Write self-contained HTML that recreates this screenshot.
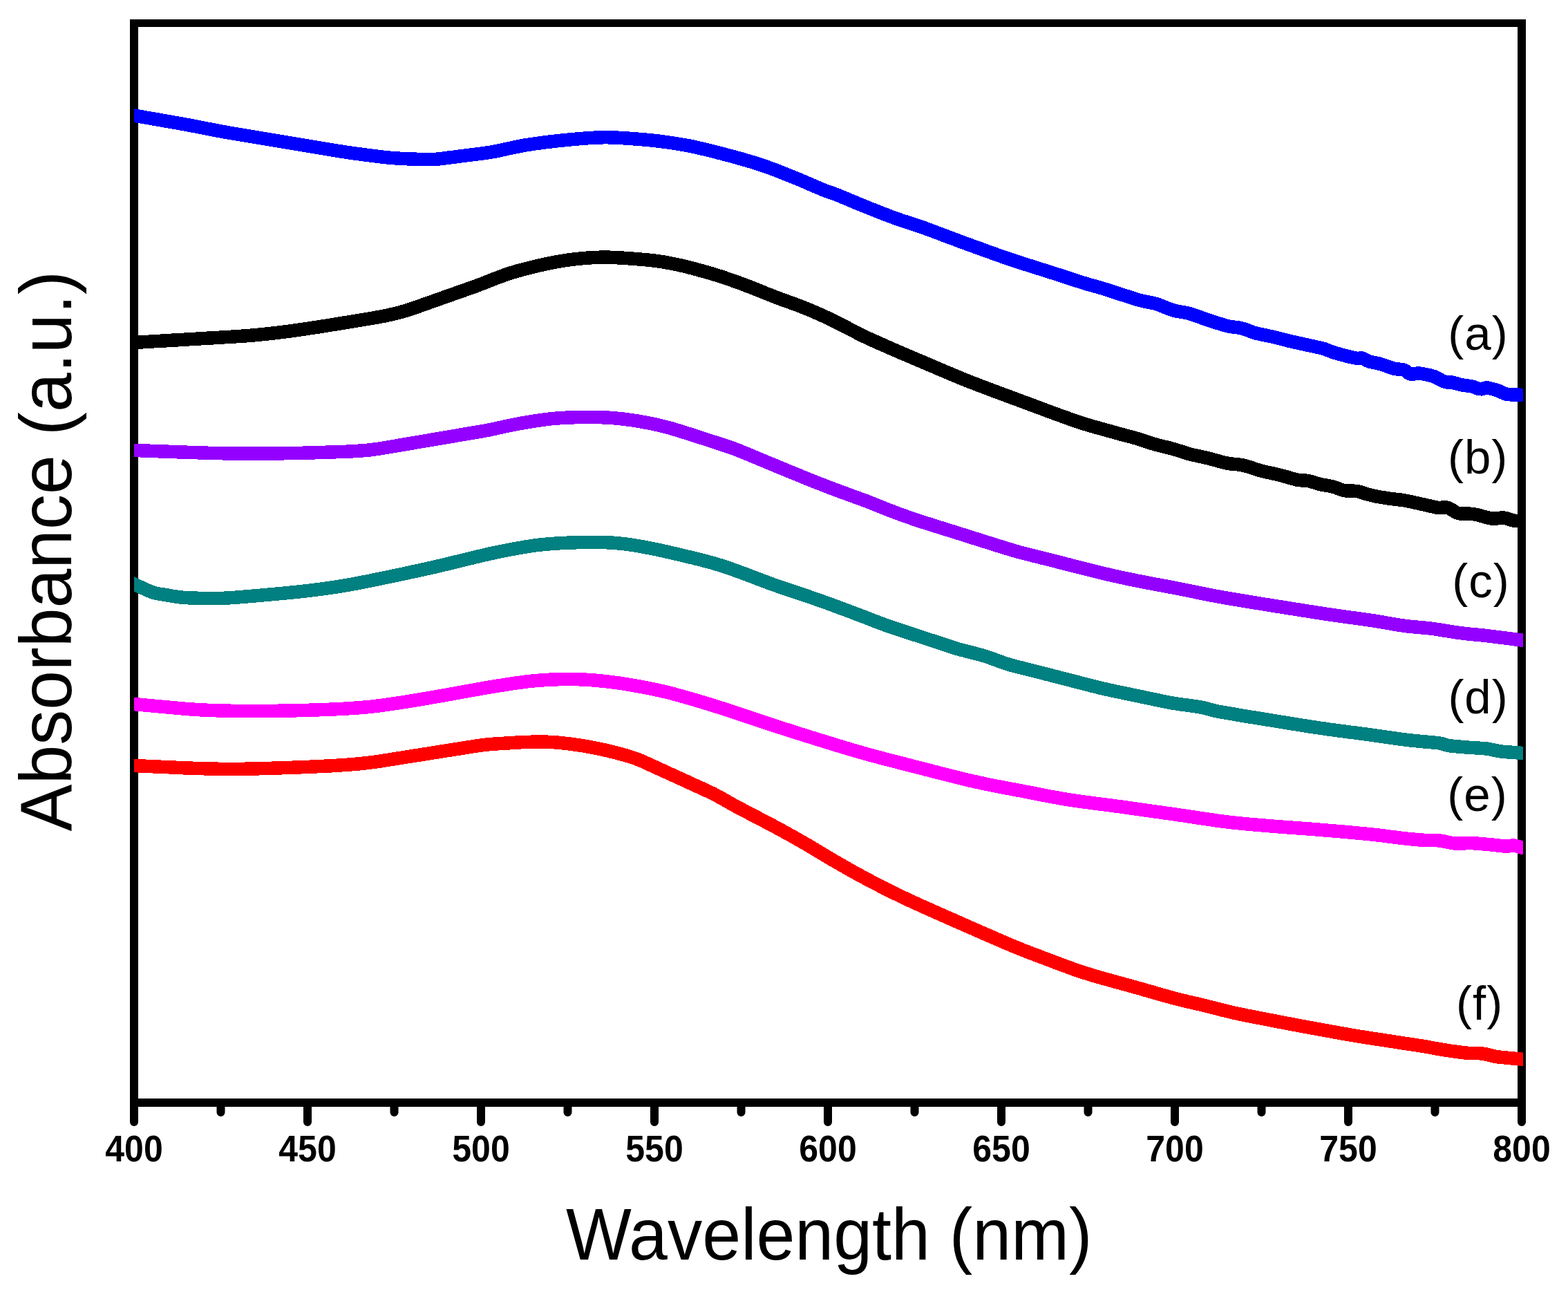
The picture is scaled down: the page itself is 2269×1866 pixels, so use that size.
<!DOCTYPE html>
<html><head><meta charset="utf-8"><title>Absorbance spectra</title>
<style>
html,body{margin:0;padding:0;background:#fff;}
body{width:2269px;height:1866px;overflow:hidden;}
svg{display:block;}
.tl{font-family:"Liberation Sans",Arial,sans-serif;font-weight:bold;font-size:50px;text-anchor:middle;fill:#000;}
.cl{font-family:"Liberation Sans",Arial,sans-serif;font-size:69px;letter-spacing:1px;fill:#000;}
.ax{font-family:"Liberation Sans",Arial,sans-serif;font-size:102px;fill:#000;}
</style></head><body>
<svg width="2269" height="1866" viewBox="0 0 2269 1866">
<g fill="#000">
<rect x="188" y="28" width="2020" height="11"/>
<rect x="188" y="1589" width="2020" height="12"/>
<rect x="188" y="28" width="12" height="1573"/>
<rect x="2196" y="28" width="12" height="1573"/>
</g>
<path d="M194.0 1595V1623 M319.5 1595V1609 M445.0 1595V1623 M570.5 1595V1609 M696.0 1595V1623 M821.5 1595V1609 M947.0 1595V1623 M1072.5 1595V1609 M1198.0 1595V1623 M1323.5 1595V1609 M1449.0 1595V1623 M1574.5 1595V1609 M1700.0 1595V1623 M1825.5 1595V1609 M1951.0 1595V1623 M2076.5 1595V1609 M2202.0 1595V1623" stroke="#000" stroke-width="12" stroke-linecap="round" fill="none"/>
<text transform="translate(194.0,1680) scale(1,1.07)" class="tl">400</text>
<text transform="translate(445.0,1680) scale(1,1.07)" class="tl">450</text>
<text transform="translate(696.0,1680) scale(1,1.07)" class="tl">500</text>
<text transform="translate(947.0,1680) scale(1,1.07)" class="tl">550</text>
<text transform="translate(1198.0,1680) scale(1,1.07)" class="tl">600</text>
<text transform="translate(1449.0,1680) scale(1,1.07)" class="tl">650</text>
<text transform="translate(1700.0,1680) scale(1,1.07)" class="tl">700</text>
<text transform="translate(1951.0,1680) scale(1,1.07)" class="tl">750</text>
<text transform="translate(2202.0,1680) scale(1,1.07)" class="tl">800</text>
<defs><clipPath id="pc"><rect x="194" y="0" width="2010" height="1866"/></clipPath></defs>
<g clip-path="url(#pc)" fill="none" stroke-width="19.5" stroke-linejoin="round" shape-rendering="crispEdges">
<path d="M182.0 164.9 L185.0 165.4 L188.0 165.9 L191.0 166.5 L194.0 167.0 L197.0 167.5 L200.0 168.1 L203.0 168.6 L206.0 169.1 L209.0 169.6 L212.0 170.2 L215.0 170.7 L218.0 171.2 L221.0 171.7 L224.0 172.3 L227.0 172.8 L230.0 173.3 L233.0 173.8 L236.0 174.4 L239.0 174.9 L242.0 175.4 L245.0 175.9 L248.0 176.5 L251.0 177.0 L254.0 177.5 L257.0 178.0 L260.0 178.6 L263.0 179.1 L266.0 179.6 L269.0 180.2 L272.0 180.7 L275.0 181.3 L278.0 181.9 L281.0 182.4 L284.0 183.0 L287.0 183.6 L290.0 184.2 L293.0 184.8 L296.0 185.4 L299.0 186.0 L302.0 186.6 L305.0 187.1 L308.0 187.7 L311.0 188.3 L314.0 188.9 L317.0 189.5 L320.0 190.0 L323.0 190.6 L326.0 191.1 L329.0 191.7 L332.0 192.2 L335.0 192.7 L338.0 193.2 L341.0 193.7 L344.0 194.2 L347.0 194.7 L350.0 195.2 L353.0 195.7 L356.0 196.2 L359.0 196.7 L362.0 197.2 L365.0 197.7 L368.0 198.2 L371.0 198.7 L374.0 199.2 L377.0 199.7 L380.0 200.2 L383.0 200.7 L386.0 201.2 L389.0 201.7 L392.0 202.2 L395.0 202.7 L398.0 203.2 L401.0 203.7 L404.0 204.2 L407.0 204.7 L410.0 205.2 L413.0 205.7 L416.0 206.2 L419.0 206.7 L422.0 207.2 L425.0 207.7 L428.0 208.2 L431.0 208.7 L434.0 209.2 L437.0 209.7 L440.0 210.2 L443.0 210.7 L446.0 211.2 L449.0 211.7 L452.0 212.2 L455.0 212.7 L458.0 213.2 L461.0 213.7 L464.0 214.2 L467.0 214.7 L470.0 215.2 L473.0 215.7 L476.0 216.2 L479.0 216.7 L482.0 217.2 L485.0 217.7 L488.0 218.2 L491.0 218.7 L494.0 219.1 L497.0 219.6 L500.0 220.0 L503.0 220.5 L506.0 220.9 L509.0 221.4 L512.0 221.8 L515.0 222.2 L518.0 222.6 L521.0 223.0 L524.0 223.4 L527.0 223.8 L530.0 224.2 L533.0 224.6 L536.0 225.0 L539.0 225.4 L542.0 225.7 L545.0 226.1 L548.0 226.5 L551.0 226.8 L554.0 227.2 L557.0 227.5 L560.0 227.8 L563.0 228.1 L566.0 228.4 L569.0 228.6 L572.0 228.8 L575.0 229.0 L578.0 229.2 L581.0 229.4 L584.0 229.5 L587.0 229.7 L590.0 229.8 L593.0 229.9 L596.0 230.0 L599.0 230.1 L602.0 230.2 L605.0 230.4 L608.0 230.5 L611.0 230.5 L614.0 230.6 L617.0 230.7 L620.0 230.7 L623.0 230.6 L626.0 230.5 L629.0 230.4 L632.0 230.2 L635.0 229.9 L638.0 229.6 L641.0 229.2 L644.0 228.8 L647.0 228.4 L650.0 228.0 L653.0 227.7 L656.0 227.3 L659.0 226.9 L662.0 226.5 L665.0 226.1 L668.0 225.7 L671.0 225.3 L674.0 224.9 L677.0 224.5 L680.0 224.2 L683.0 223.8 L686.0 223.4 L689.0 223.1 L692.0 222.7 L695.0 222.3 L698.0 222.0 L701.0 221.6 L704.0 221.1 L707.0 220.7 L710.0 220.2 L713.0 219.6 L716.0 219.1 L719.0 218.5 L722.0 217.9 L725.0 217.2 L728.0 216.6 L731.0 215.9 L734.0 215.3 L737.0 214.6 L740.0 214.0 L743.0 213.3 L746.0 212.7 L749.0 212.1 L752.0 211.5 L755.0 210.9 L758.0 210.3 L761.0 209.8 L764.0 209.4 L767.0 208.9 L770.0 208.5 L773.0 208.0 L776.0 207.6 L779.0 207.2 L782.0 206.8 L785.0 206.4 L788.0 206.0 L791.0 205.6 L794.0 205.2 L797.0 204.9 L800.0 204.5 L803.0 204.2 L806.0 203.8 L809.0 203.5 L812.0 203.2 L815.0 202.9 L818.0 202.6 L821.0 202.3 L824.0 202.0 L827.0 201.7 L830.0 201.4 L833.0 201.2 L836.0 200.9 L839.0 200.7 L842.0 200.4 L845.0 200.2 L848.0 200.0 L851.0 199.7 L854.0 199.5 L857.0 199.4 L860.0 199.2 L863.0 199.1 L866.0 198.9 L869.0 198.9 L872.0 198.8 L875.0 198.7 L878.0 198.7 L881.0 198.8 L884.0 198.8 L887.0 198.9 L890.0 199.0 L893.0 199.2 L896.0 199.3 L899.0 199.5 L902.0 199.7 L905.0 199.9 L908.0 200.1 L911.0 200.3 L914.0 200.6 L917.0 200.8 L920.0 201.0 L923.0 201.2 L926.0 201.5 L929.0 201.7 L932.0 202.0 L935.0 202.2 L938.0 202.5 L941.0 202.8 L944.0 203.1 L947.0 203.4 L950.0 203.8 L953.0 204.1 L956.0 204.5 L959.0 204.9 L962.0 205.3 L965.0 205.7 L968.0 206.2 L971.0 206.6 L974.0 207.0 L977.0 207.5 L980.0 208.0 L983.0 208.5 L986.0 209.0 L989.0 209.5 L992.0 210.0 L995.0 210.6 L998.0 211.1 L1001.0 211.7 L1004.0 212.3 L1007.0 213.0 L1010.0 213.7 L1013.0 214.4 L1016.0 215.1 L1019.0 215.8 L1022.0 216.5 L1025.0 217.2 L1028.0 218.0 L1031.0 218.7 L1034.0 219.5 L1037.0 220.3 L1040.0 221.1 L1043.0 221.8 L1046.0 222.6 L1049.0 223.4 L1052.0 224.2 L1055.0 225.0 L1058.0 225.8 L1061.0 226.6 L1064.0 227.4 L1067.0 228.3 L1070.0 229.1 L1073.0 229.9 L1076.0 230.8 L1079.0 231.7 L1082.0 232.5 L1085.0 233.4 L1088.0 234.3 L1091.0 235.2 L1094.0 236.2 L1097.0 237.1 L1100.0 238.1 L1103.0 239.1 L1106.0 240.2 L1109.0 241.2 L1112.0 242.3 L1115.0 243.4 L1118.0 244.5 L1121.0 245.6 L1124.0 246.8 L1127.0 247.9 L1130.0 249.1 L1133.0 250.3 L1136.0 251.5 L1139.0 252.7 L1142.0 253.9 L1145.0 255.1 L1148.0 256.3 L1151.0 257.5 L1154.0 258.8 L1157.0 260.0 L1160.0 261.2 L1163.0 262.5 L1166.0 263.8 L1169.0 265.1 L1172.0 266.4 L1175.0 267.7 L1178.0 269.0 L1181.0 270.3 L1184.0 271.5 L1187.0 272.8 L1190.0 274.1 L1193.0 275.3 L1196.0 276.5 L1199.0 277.6 L1202.0 278.6 L1205.0 279.6 L1208.0 280.6 L1211.0 281.8 L1214.0 283.0 L1217.0 284.2 L1220.0 285.5 L1223.0 286.7 L1226.0 288.0 L1229.0 289.2 L1232.0 290.5 L1235.0 291.7 L1238.0 293.0 L1241.0 294.3 L1244.0 295.5 L1247.0 296.7 L1250.0 298.0 L1253.0 299.2 L1256.0 300.4 L1259.0 301.6 L1262.0 302.8 L1265.0 303.9 L1268.0 305.1 L1271.0 306.3 L1274.0 307.5 L1277.0 308.7 L1280.0 309.8 L1283.0 311.0 L1286.0 312.1 L1289.0 313.3 L1292.0 314.4 L1295.0 315.5 L1298.0 316.6 L1301.0 317.6 L1304.0 318.7 L1307.0 319.7 L1310.0 320.6 L1313.0 321.6 L1316.0 322.6 L1319.0 323.5 L1322.0 324.5 L1325.0 325.5 L1328.0 326.4 L1331.0 327.5 L1334.0 328.5 L1337.0 329.6 L1340.0 330.7 L1343.0 331.8 L1346.0 332.9 L1349.0 334.0 L1352.0 335.1 L1355.0 336.3 L1358.0 337.4 L1361.0 338.5 L1364.0 339.7 L1367.0 340.8 L1370.0 341.9 L1373.0 343.1 L1376.0 344.2 L1379.0 345.3 L1382.0 346.4 L1385.0 347.6 L1388.0 348.7 L1391.0 349.8 L1394.0 350.9 L1397.0 352.0 L1400.0 353.1 L1403.0 354.2 L1406.0 355.3 L1409.0 356.4 L1412.0 357.5 L1415.0 358.5 L1418.0 359.6 L1421.0 360.7 L1424.0 361.8 L1427.0 362.9 L1430.0 364.0 L1433.0 365.0 L1436.0 366.1 L1439.0 367.2 L1442.0 368.3 L1445.0 369.3 L1448.0 370.4 L1451.0 371.4 L1454.0 372.5 L1457.0 373.5 L1460.0 374.5 L1463.0 375.5 L1466.0 376.5 L1469.0 377.5 L1472.0 378.5 L1475.0 379.5 L1478.0 380.5 L1481.0 381.4 L1484.0 382.4 L1487.0 383.3 L1490.0 384.3 L1493.0 385.2 L1496.0 386.2 L1499.0 387.1 L1502.0 388.1 L1505.0 389.0 L1508.0 390.0 L1511.0 390.9 L1514.0 391.9 L1517.0 392.8 L1520.0 393.8 L1523.0 394.7 L1526.0 395.7 L1529.0 396.7 L1532.0 397.6 L1535.0 398.6 L1538.0 399.6 L1541.0 400.6 L1544.0 401.5 L1547.0 402.5 L1550.0 403.5 L1553.0 404.4 L1556.0 405.4 L1559.0 406.4 L1562.0 407.3 L1565.0 408.3 L1568.0 409.3 L1571.0 410.2 L1574.0 411.1 L1577.0 412.0 L1580.0 412.8 L1583.0 413.6 L1586.0 414.4 L1589.0 415.2 L1592.0 416.1 L1595.0 417.0 L1598.0 418.0 L1601.0 418.9 L1604.0 419.9 L1607.0 420.9 L1610.0 421.9 L1613.0 422.8 L1616.0 423.8 L1619.0 424.8 L1622.0 425.8 L1625.0 426.7 L1628.0 427.7 L1631.0 428.6 L1634.0 429.6 L1637.0 430.5 L1640.0 431.5 L1643.0 432.4 L1646.0 433.4 L1649.0 434.3 L1652.0 435.0 L1655.0 435.7 L1658.0 436.3 L1661.0 436.9 L1664.0 437.5 L1667.0 438.1 L1670.0 438.8 L1673.0 439.6 L1676.0 440.6 L1679.0 441.7 L1682.0 442.8 L1685.0 444.1 L1688.0 445.3 L1691.0 446.5 L1694.0 447.6 L1697.0 448.6 L1700.0 449.5 L1703.0 450.1 L1706.0 450.7 L1709.0 451.2 L1712.0 451.7 L1715.0 452.2 L1718.0 452.8 L1721.0 453.6 L1724.0 454.5 L1727.0 455.5 L1730.0 456.5 L1733.0 457.6 L1736.0 458.6 L1739.0 459.7 L1742.0 460.8 L1745.0 461.9 L1748.0 462.9 L1751.0 463.9 L1754.0 464.9 L1757.0 465.9 L1760.0 466.8 L1763.0 467.7 L1766.0 468.6 L1769.0 469.5 L1772.0 470.4 L1775.0 471.2 L1778.0 472.0 L1781.0 472.5 L1784.0 472.9 L1787.0 473.3 L1790.0 473.6 L1793.0 474.1 L1796.0 474.7 L1799.0 475.5 L1802.0 476.5 L1805.0 477.6 L1808.0 478.8 L1811.0 479.9 L1814.0 481.0 L1817.0 481.9 L1820.0 482.6 L1823.0 483.3 L1826.0 483.9 L1829.0 484.5 L1832.0 485.1 L1835.0 485.7 L1838.0 486.4 L1841.0 487.0 L1844.0 487.7 L1847.0 488.5 L1850.0 489.3 L1853.0 490.0 L1856.0 490.8 L1859.0 491.6 L1862.0 492.3 L1865.0 493.1 L1868.0 493.8 L1871.0 494.5 L1874.0 495.1 L1877.0 495.8 L1880.0 496.4 L1883.0 497.1 L1886.0 497.7 L1889.0 498.4 L1892.0 499.1 L1895.0 499.7 L1898.0 500.4 L1901.0 501.0 L1904.0 501.7 L1907.0 502.4 L1910.0 503.0 L1913.0 503.7 L1916.0 504.6 L1919.0 505.7 L1922.0 506.9 L1925.0 508.0 L1928.0 509.1 L1931.0 510.1 L1934.0 511.0 L1937.0 511.8 L1940.0 512.7 L1943.0 513.5 L1946.0 514.3 L1949.0 515.1 L1952.0 515.9 L1955.0 516.5 L1958.0 517.2 L1961.0 517.8 L1964.0 518.4 L1967.0 518.2 L1970.0 517.8 L1973.0 518.6 L1976.0 520.3 L1979.0 522.0 L1982.0 523.1 L1985.0 523.8 L1988.0 524.4 L1991.0 525.0 L1994.0 525.6 L1997.0 526.4 L2000.0 527.3 L2003.0 528.3 L2006.0 529.4 L2009.0 530.5 L2012.0 531.6 L2015.0 532.6 L2018.0 533.4 L2021.0 533.8 L2024.0 534.1 L2027.0 534.4 L2030.0 534.8 L2033.0 535.6 L2036.0 537.8 L2039.0 540.4 L2042.0 541.3 L2045.0 541.1 L2048.0 540.5 L2051.0 540.0 L2054.0 540.1 L2057.0 540.5 L2060.0 541.0 L2063.0 541.6 L2066.0 542.2 L2069.0 542.9 L2072.0 543.7 L2075.0 544.6 L2078.0 545.9 L2081.0 547.4 L2084.0 549.1 L2087.0 550.7 L2090.0 552.0 L2093.0 552.8 L2096.0 552.8 L2099.0 552.8 L2102.0 553.3 L2105.0 554.1 L2108.0 554.9 L2111.0 555.7 L2114.0 556.5 L2117.0 557.1 L2120.0 557.5 L2123.0 557.9 L2126.0 558.3 L2129.0 558.8 L2132.0 559.6 L2135.0 560.7 L2138.0 561.8 L2141.0 562.7 L2144.0 562.8 L2147.0 561.9 L2150.0 561.0 L2153.0 561.1 L2156.0 561.7 L2159.0 562.4 L2162.0 563.2 L2165.0 564.1 L2168.0 565.1 L2171.0 566.4 L2174.0 567.9 L2177.0 569.3 L2180.0 570.2 L2183.0 570.5 L2186.0 570.8 L2189.0 570.9 L2192.0 571.0 L2195.0 571.1 L2198.0 571.2 L2201.0 571.3 L2204.0 571.4 L2207.0 571.5 L2210.0 571.6 L2213.0 571.7 L2216.0 571.8" stroke="#0000ff"/>
<path d="M182.0 496.2 L185.0 496.0 L188.0 495.9 L191.0 495.7 L194.0 495.5 L197.0 495.3 L200.0 495.1 L203.0 495.0 L206.0 494.8 L209.0 494.6 L212.0 494.4 L215.0 494.3 L218.0 494.1 L221.0 493.9 L224.0 493.7 L227.0 493.6 L230.0 493.4 L233.0 493.2 L236.0 493.0 L239.0 492.9 L242.0 492.7 L245.0 492.5 L248.0 492.3 L251.0 492.1 L254.0 492.0 L257.0 491.8 L260.0 491.6 L263.0 491.4 L266.0 491.3 L269.0 491.1 L272.0 490.9 L275.0 490.7 L278.0 490.6 L281.0 490.4 L284.0 490.2 L287.0 490.0 L290.0 489.8 L293.0 489.7 L296.0 489.5 L299.0 489.3 L302.0 489.1 L305.0 489.0 L308.0 488.8 L311.0 488.6 L314.0 488.4 L317.0 488.3 L320.0 488.1 L323.0 487.9 L326.0 487.7 L329.0 487.6 L332.0 487.4 L335.0 487.2 L338.0 487.0 L341.0 486.8 L344.0 486.6 L347.0 486.4 L350.0 486.2 L353.0 486.0 L356.0 485.8 L359.0 485.5 L362.0 485.3 L365.0 485.0 L368.0 484.8 L371.0 484.5 L374.0 484.2 L377.0 483.9 L380.0 483.6 L383.0 483.3 L386.0 483.0 L389.0 482.7 L392.0 482.4 L395.0 482.0 L398.0 481.7 L401.0 481.3 L404.0 481.0 L407.0 480.6 L410.0 480.2 L413.0 479.8 L416.0 479.4 L419.0 479.1 L422.0 478.6 L425.0 478.2 L428.0 477.8 L431.0 477.4 L434.0 477.0 L437.0 476.5 L440.0 476.1 L443.0 475.6 L446.0 475.2 L449.0 474.7 L452.0 474.3 L455.0 473.8 L458.0 473.3 L461.0 472.9 L464.0 472.4 L467.0 471.9 L470.0 471.5 L473.0 471.0 L476.0 470.5 L479.0 470.0 L482.0 469.5 L485.0 469.1 L488.0 468.6 L491.0 468.1 L494.0 467.6 L497.0 467.1 L500.0 466.6 L503.0 466.2 L506.0 465.7 L509.0 465.2 L512.0 464.7 L515.0 464.2 L518.0 463.7 L521.0 463.2 L524.0 462.7 L527.0 462.2 L530.0 461.7 L533.0 461.2 L536.0 460.7 L539.0 460.2 L542.0 459.6 L545.0 459.1 L548.0 458.6 L551.0 458.0 L554.0 457.5 L557.0 456.9 L560.0 456.3 L563.0 455.6 L566.0 454.9 L569.0 454.2 L572.0 453.5 L575.0 452.8 L578.0 452.0 L581.0 451.2 L584.0 450.3 L587.0 449.4 L590.0 448.5 L593.0 447.6 L596.0 446.6 L599.0 445.6 L602.0 444.5 L605.0 443.4 L608.0 442.4 L611.0 441.3 L614.0 440.2 L617.0 439.2 L620.0 438.1 L623.0 437.0 L626.0 436.0 L629.0 434.9 L632.0 433.9 L635.0 432.8 L638.0 431.7 L641.0 430.7 L644.0 429.6 L647.0 428.5 L650.0 427.5 L653.0 426.4 L656.0 425.4 L659.0 424.3 L662.0 423.2 L665.0 422.2 L668.0 421.1 L671.0 420.1 L674.0 419.0 L677.0 417.9 L680.0 416.9 L683.0 415.8 L686.0 414.8 L689.0 413.7 L692.0 412.6 L695.0 411.4 L698.0 410.3 L701.0 409.1 L704.0 407.9 L707.0 406.7 L710.0 405.5 L713.0 404.4 L716.0 403.2 L719.0 402.0 L722.0 400.9 L725.0 399.8 L728.0 398.7 L731.0 397.6 L734.0 396.6 L737.0 395.6 L740.0 394.6 L743.0 393.7 L746.0 392.8 L749.0 391.9 L752.0 391.1 L755.0 390.3 L758.0 389.5 L761.0 388.7 L764.0 388.0 L767.0 387.2 L770.0 386.5 L773.0 385.8 L776.0 385.0 L779.0 384.3 L782.0 383.6 L785.0 383.0 L788.0 382.3 L791.0 381.6 L794.0 381.0 L797.0 380.4 L800.0 379.8 L803.0 379.2 L806.0 378.7 L809.0 378.2 L812.0 377.7 L815.0 377.2 L818.0 376.7 L821.0 376.3 L824.0 375.8 L827.0 375.4 L830.0 375.1 L833.0 374.7 L836.0 374.4 L839.0 374.1 L842.0 373.8 L845.0 373.5 L848.0 373.3 L851.0 373.1 L854.0 372.9 L857.0 372.7 L860.0 372.5 L863.0 372.4 L866.0 372.3 L869.0 372.2 L872.0 372.2 L875.0 372.2 L878.0 372.2 L881.0 372.2 L884.0 372.3 L887.0 372.4 L890.0 372.5 L893.0 372.7 L896.0 372.9 L899.0 373.0 L902.0 373.2 L905.0 373.4 L908.0 373.6 L911.0 373.9 L914.0 374.1 L917.0 374.3 L920.0 374.5 L923.0 374.8 L926.0 375.0 L929.0 375.3 L932.0 375.5 L935.0 375.8 L938.0 376.1 L941.0 376.4 L944.0 376.8 L947.0 377.1 L950.0 377.5 L953.0 377.9 L956.0 378.4 L959.0 378.8 L962.0 379.3 L965.0 379.9 L968.0 380.4 L971.0 381.0 L974.0 381.6 L977.0 382.2 L980.0 382.8 L983.0 383.5 L986.0 384.1 L989.0 384.8 L992.0 385.6 L995.0 386.3 L998.0 387.1 L1001.0 387.8 L1004.0 388.6 L1007.0 389.4 L1010.0 390.2 L1013.0 391.1 L1016.0 391.9 L1019.0 392.7 L1022.0 393.6 L1025.0 394.5 L1028.0 395.3 L1031.0 396.2 L1034.0 397.1 L1037.0 398.0 L1040.0 399.0 L1043.0 399.9 L1046.0 400.9 L1049.0 401.9 L1052.0 403.0 L1055.0 404.0 L1058.0 405.0 L1061.0 406.1 L1064.0 407.2 L1067.0 408.2 L1070.0 409.3 L1073.0 410.4 L1076.0 411.5 L1079.0 412.7 L1082.0 413.8 L1085.0 415.0 L1088.0 416.1 L1091.0 417.3 L1094.0 418.5 L1097.0 419.7 L1100.0 420.9 L1103.0 422.1 L1106.0 423.4 L1109.0 424.6 L1112.0 425.8 L1115.0 427.0 L1118.0 428.2 L1121.0 429.3 L1124.0 430.5 L1127.0 431.6 L1130.0 432.7 L1133.0 433.8 L1136.0 434.9 L1139.0 435.9 L1142.0 437.0 L1145.0 438.1 L1148.0 439.2 L1151.0 440.3 L1154.0 441.4 L1157.0 442.5 L1160.0 443.7 L1163.0 444.9 L1166.0 446.1 L1169.0 447.3 L1172.0 448.5 L1175.0 449.8 L1178.0 451.1 L1181.0 452.4 L1184.0 453.7 L1187.0 455.0 L1190.0 456.4 L1193.0 457.7 L1196.0 459.1 L1199.0 460.5 L1202.0 462.0 L1205.0 463.4 L1208.0 464.9 L1211.0 466.4 L1214.0 467.9 L1217.0 469.5 L1220.0 471.0 L1223.0 472.6 L1226.0 474.1 L1229.0 475.7 L1232.0 477.2 L1235.0 478.8 L1238.0 480.3 L1241.0 481.9 L1244.0 483.4 L1247.0 484.9 L1250.0 486.4 L1253.0 487.8 L1256.0 489.2 L1259.0 490.6 L1262.0 492.0 L1265.0 493.3 L1268.0 494.6 L1271.0 496.0 L1274.0 497.3 L1277.0 498.6 L1280.0 499.9 L1283.0 501.2 L1286.0 502.6 L1289.0 503.9 L1292.0 505.2 L1295.0 506.5 L1298.0 507.8 L1301.0 509.1 L1304.0 510.4 L1307.0 511.7 L1310.0 512.9 L1313.0 514.2 L1316.0 515.5 L1319.0 516.8 L1322.0 518.1 L1325.0 519.4 L1328.0 520.6 L1331.0 521.9 L1334.0 523.2 L1337.0 524.4 L1340.0 525.7 L1343.0 527.0 L1346.0 528.3 L1349.0 529.6 L1352.0 530.8 L1355.0 532.1 L1358.0 533.4 L1361.0 534.7 L1364.0 536.0 L1367.0 537.2 L1370.0 538.5 L1373.0 539.8 L1376.0 541.0 L1379.0 542.3 L1382.0 543.6 L1385.0 544.8 L1388.0 546.0 L1391.0 547.3 L1394.0 548.5 L1397.0 549.7 L1400.0 550.9 L1403.0 552.1 L1406.0 553.3 L1409.0 554.4 L1412.0 555.6 L1415.0 556.7 L1418.0 557.9 L1421.0 559.0 L1424.0 560.2 L1427.0 561.3 L1430.0 562.4 L1433.0 563.5 L1436.0 564.7 L1439.0 565.8 L1442.0 566.9 L1445.0 568.0 L1448.0 569.1 L1451.0 570.3 L1454.0 571.4 L1457.0 572.5 L1460.0 573.6 L1463.0 574.7 L1466.0 575.8 L1469.0 576.9 L1472.0 578.0 L1475.0 579.1 L1478.0 580.3 L1481.0 581.4 L1484.0 582.5 L1487.0 583.6 L1490.0 584.7 L1493.0 585.8 L1496.0 587.0 L1499.0 588.1 L1502.0 589.2 L1505.0 590.3 L1508.0 591.4 L1511.0 592.6 L1514.0 593.7 L1517.0 594.8 L1520.0 595.9 L1523.0 597.0 L1526.0 598.1 L1529.0 599.2 L1532.0 600.3 L1535.0 601.4 L1538.0 602.5 L1541.0 603.6 L1544.0 604.6 L1547.0 605.7 L1550.0 606.8 L1553.0 607.8 L1556.0 608.8 L1559.0 609.9 L1562.0 610.8 L1565.0 611.8 L1568.0 612.8 L1571.0 613.7 L1574.0 614.6 L1577.0 615.5 L1580.0 616.4 L1583.0 617.2 L1586.0 618.1 L1589.0 618.9 L1592.0 619.8 L1595.0 620.6 L1598.0 621.4 L1601.0 622.3 L1604.0 623.1 L1607.0 623.9 L1610.0 624.7 L1613.0 625.6 L1616.0 626.4 L1619.0 627.2 L1622.0 628.1 L1625.0 628.9 L1628.0 629.7 L1631.0 630.5 L1634.0 631.3 L1637.0 632.0 L1640.0 632.9 L1643.0 633.7 L1646.0 634.5 L1649.0 635.4 L1652.0 636.4 L1655.0 637.4 L1658.0 638.4 L1661.0 639.4 L1664.0 640.4 L1667.0 641.4 L1670.0 642.3 L1673.0 643.2 L1676.0 644.0 L1679.0 644.8 L1682.0 645.5 L1685.0 646.2 L1688.0 646.9 L1691.0 647.6 L1694.0 648.4 L1697.0 649.2 L1700.0 650.1 L1703.0 651.0 L1706.0 652.0 L1709.0 652.9 L1712.0 653.9 L1715.0 654.9 L1718.0 655.8 L1721.0 656.7 L1724.0 657.4 L1727.0 658.2 L1730.0 658.8 L1733.0 659.5 L1736.0 660.1 L1739.0 660.8 L1742.0 661.4 L1745.0 662.1 L1748.0 662.8 L1751.0 663.6 L1754.0 664.4 L1757.0 665.2 L1760.0 666.0 L1763.0 666.8 L1766.0 667.7 L1769.0 668.5 L1772.0 669.2 L1775.0 669.9 L1778.0 670.5 L1781.0 670.9 L1784.0 671.2 L1787.0 671.5 L1790.0 671.7 L1793.0 672.1 L1796.0 672.5 L1799.0 673.1 L1802.0 673.8 L1805.0 674.7 L1808.0 675.6 L1811.0 676.6 L1814.0 677.7 L1817.0 678.7 L1820.0 679.6 L1823.0 680.5 L1826.0 681.3 L1829.0 682.0 L1832.0 682.7 L1835.0 683.4 L1838.0 684.0 L1841.0 684.7 L1844.0 685.3 L1847.0 686.0 L1850.0 686.7 L1853.0 687.4 L1856.0 688.2 L1859.0 689.1 L1862.0 689.9 L1865.0 690.8 L1868.0 691.7 L1871.0 692.5 L1874.0 693.3 L1877.0 694.1 L1880.0 694.6 L1883.0 694.8 L1886.0 694.9 L1889.0 695.1 L1892.0 695.4 L1895.0 696.0 L1898.0 696.8 L1901.0 697.7 L1904.0 698.7 L1907.0 699.6 L1910.0 700.4 L1913.0 701.1 L1916.0 701.6 L1919.0 702.1 L1922.0 702.7 L1925.0 703.2 L1928.0 703.8 L1931.0 704.7 L1934.0 705.7 L1937.0 706.9 L1940.0 708.0 L1943.0 709.0 L1946.0 709.7 L1949.0 710.1 L1952.0 710.2 L1955.0 710.2 L1958.0 710.2 L1961.0 710.3 L1964.0 710.6 L1967.0 711.2 L1970.0 712.1 L1973.0 713.1 L1976.0 714.1 L1979.0 715.0 L1982.0 715.8 L1985.0 716.5 L1988.0 717.2 L1991.0 717.9 L1994.0 718.5 L1997.0 719.0 L2000.0 719.5 L2003.0 720.0 L2006.0 720.4 L2009.0 720.9 L2012.0 721.3 L2015.0 721.7 L2018.0 722.1 L2021.0 722.4 L2024.0 722.8 L2027.0 723.1 L2030.0 723.6 L2033.0 724.0 L2036.0 724.6 L2039.0 725.2 L2042.0 725.8 L2045.0 726.5 L2048.0 727.2 L2051.0 727.8 L2054.0 728.5 L2057.0 729.2 L2060.0 729.8 L2063.0 730.5 L2066.0 731.2 L2069.0 731.9 L2072.0 732.5 L2075.0 733.2 L2078.0 733.9 L2081.0 734.3 L2084.0 734.3 L2087.0 734.2 L2090.0 734.0 L2093.0 734.1 L2096.0 734.7 L2099.0 736.2 L2102.0 738.1 L2105.0 740.1 L2108.0 741.7 L2111.0 742.7 L2114.0 743.0 L2117.0 743.2 L2120.0 743.2 L2123.0 743.2 L2126.0 743.2 L2129.0 743.3 L2132.0 743.6 L2135.0 744.2 L2138.0 744.8 L2141.0 745.6 L2144.0 746.5 L2147.0 747.3 L2150.0 748.2 L2153.0 748.9 L2156.0 749.6 L2159.0 750.1 L2162.0 750.3 L2165.0 750.1 L2168.0 749.6 L2171.0 749.2 L2174.0 749.0 L2177.0 749.2 L2180.0 749.9 L2183.0 750.8 L2186.0 751.8 L2189.0 752.7 L2192.0 753.3 L2195.0 753.6 L2198.0 753.7 L2201.0 753.9 L2204.0 754.0 L2207.0 754.1 L2210.0 754.3 L2213.0 754.4 L2216.0 754.6" stroke="#000000"/>
<path d="M182.0 650.9 L185.0 651.1 L188.0 651.2 L191.0 651.3 L194.0 651.4 L197.0 651.5 L200.0 651.6 L203.0 651.7 L206.0 651.9 L209.0 652.0 L212.0 652.1 L215.0 652.2 L218.0 652.3 L221.0 652.4 L224.0 652.5 L227.0 652.7 L230.0 652.8 L233.0 652.9 L236.0 653.0 L239.0 653.1 L242.0 653.2 L245.0 653.3 L248.0 653.4 L251.0 653.6 L254.0 653.7 L257.0 653.8 L260.0 653.9 L263.0 654.0 L266.0 654.1 L269.0 654.2 L272.0 654.3 L275.0 654.5 L278.0 654.6 L281.0 654.7 L284.0 654.7 L287.0 654.8 L290.0 654.9 L293.0 655.0 L296.0 655.1 L299.0 655.2 L302.0 655.3 L305.0 655.3 L308.0 655.4 L311.0 655.5 L314.0 655.6 L317.0 655.6 L320.0 655.7 L323.0 655.8 L326.0 655.8 L329.0 655.9 L332.0 655.9 L335.0 656.0 L338.0 656.0 L341.0 656.1 L344.0 656.1 L347.0 656.2 L350.0 656.2 L353.0 656.2 L356.0 656.2 L359.0 656.2 L362.0 656.2 L365.0 656.2 L368.0 656.2 L371.0 656.2 L374.0 656.1 L377.0 656.1 L380.0 656.1 L383.0 656.1 L386.0 656.0 L389.0 656.0 L392.0 656.0 L395.0 655.9 L398.0 655.9 L401.0 655.9 L404.0 655.8 L407.0 655.8 L410.0 655.8 L413.0 655.7 L416.0 655.7 L419.0 655.6 L422.0 655.6 L425.0 655.5 L428.0 655.5 L431.0 655.4 L434.0 655.3 L437.0 655.3 L440.0 655.2 L443.0 655.1 L446.0 655.1 L449.0 655.0 L452.0 654.9 L455.0 654.8 L458.0 654.7 L461.0 654.6 L464.0 654.5 L467.0 654.4 L470.0 654.3 L473.0 654.2 L476.0 654.1 L479.0 654.0 L482.0 653.9 L485.0 653.8 L488.0 653.7 L491.0 653.6 L494.0 653.5 L497.0 653.4 L500.0 653.3 L503.0 653.2 L506.0 653.0 L509.0 652.9 L512.0 652.7 L515.0 652.5 L518.0 652.3 L521.0 652.1 L524.0 651.9 L527.0 651.7 L530.0 651.4 L533.0 651.1 L536.0 650.8 L539.0 650.4 L542.0 650.0 L545.0 649.6 L548.0 649.2 L551.0 648.7 L554.0 648.2 L557.0 647.7 L560.0 647.2 L563.0 646.7 L566.0 646.2 L569.0 645.7 L572.0 645.2 L575.0 644.7 L578.0 644.1 L581.0 643.6 L584.0 643.1 L587.0 642.6 L590.0 642.1 L593.0 641.6 L596.0 641.1 L599.0 640.5 L602.0 640.0 L605.0 639.5 L608.0 639.0 L611.0 638.5 L614.0 638.0 L617.0 637.5 L620.0 637.0 L623.0 636.4 L626.0 635.9 L629.0 635.4 L632.0 634.9 L635.0 634.4 L638.0 633.9 L641.0 633.4 L644.0 632.9 L647.0 632.4 L650.0 631.9 L653.0 631.4 L656.0 630.9 L659.0 630.4 L662.0 629.8 L665.0 629.3 L668.0 628.8 L671.0 628.3 L674.0 627.8 L677.0 627.3 L680.0 626.8 L683.0 626.3 L686.0 625.8 L689.0 625.3 L692.0 624.8 L695.0 624.3 L698.0 623.7 L701.0 623.2 L704.0 622.7 L707.0 622.1 L710.0 621.5 L713.0 620.8 L716.0 620.2 L719.0 619.5 L722.0 618.8 L725.0 618.2 L728.0 617.5 L731.0 616.8 L734.0 616.2 L737.0 615.6 L740.0 615.0 L743.0 614.4 L746.0 613.8 L749.0 613.2 L752.0 612.7 L755.0 612.1 L758.0 611.6 L761.0 611.1 L764.0 610.6 L767.0 610.1 L770.0 609.6 L773.0 609.1 L776.0 608.7 L779.0 608.2 L782.0 607.8 L785.0 607.3 L788.0 606.9 L791.0 606.5 L794.0 606.2 L797.0 605.8 L800.0 605.5 L803.0 605.3 L806.0 605.0 L809.0 604.8 L812.0 604.6 L815.0 604.4 L818.0 604.3 L821.0 604.1 L824.0 604.0 L827.0 603.9 L830.0 603.8 L833.0 603.7 L836.0 603.7 L839.0 603.6 L842.0 603.6 L845.0 603.5 L848.0 603.5 L851.0 603.5 L854.0 603.5 L857.0 603.5 L860.0 603.5 L863.0 603.5 L866.0 603.6 L869.0 603.7 L872.0 603.8 L875.0 603.9 L878.0 604.1 L881.0 604.2 L884.0 604.4 L887.0 604.6 L890.0 604.9 L893.0 605.2 L896.0 605.4 L899.0 605.8 L902.0 606.1 L905.0 606.5 L908.0 606.9 L911.0 607.3 L914.0 607.7 L917.0 608.2 L920.0 608.7 L923.0 609.1 L926.0 609.6 L929.0 610.2 L932.0 610.7 L935.0 611.3 L938.0 611.8 L941.0 612.4 L944.0 613.0 L947.0 613.7 L950.0 614.3 L953.0 615.0 L956.0 615.7 L959.0 616.5 L962.0 617.2 L965.0 618.0 L968.0 618.8 L971.0 619.6 L974.0 620.5 L977.0 621.4 L980.0 622.3 L983.0 623.2 L986.0 624.2 L989.0 625.1 L992.0 626.0 L995.0 627.0 L998.0 627.9 L1001.0 628.9 L1004.0 629.9 L1007.0 630.8 L1010.0 631.8 L1013.0 632.8 L1016.0 633.7 L1019.0 634.7 L1022.0 635.7 L1025.0 636.7 L1028.0 637.7 L1031.0 638.7 L1034.0 639.6 L1037.0 640.6 L1040.0 641.5 L1043.0 642.5 L1046.0 643.4 L1049.0 644.4 L1052.0 645.4 L1055.0 646.4 L1058.0 647.5 L1061.0 648.6 L1064.0 649.7 L1067.0 650.8 L1070.0 652.0 L1073.0 653.3 L1076.0 654.5 L1079.0 655.7 L1082.0 657.0 L1085.0 658.2 L1088.0 659.4 L1091.0 660.7 L1094.0 662.0 L1097.0 663.2 L1100.0 664.5 L1103.0 665.7 L1106.0 667.0 L1109.0 668.2 L1112.0 669.5 L1115.0 670.7 L1118.0 672.0 L1121.0 673.2 L1124.0 674.4 L1127.0 675.7 L1130.0 676.9 L1133.0 678.2 L1136.0 679.4 L1139.0 680.6 L1142.0 681.9 L1145.0 683.1 L1148.0 684.3 L1151.0 685.5 L1154.0 686.8 L1157.0 688.0 L1160.0 689.2 L1163.0 690.5 L1166.0 691.7 L1169.0 692.9 L1172.0 694.1 L1175.0 695.3 L1178.0 696.5 L1181.0 697.7 L1184.0 698.9 L1187.0 700.0 L1190.0 701.2 L1193.0 702.4 L1196.0 703.5 L1199.0 704.7 L1202.0 705.8 L1205.0 707.0 L1208.0 708.1 L1211.0 709.2 L1214.0 710.4 L1217.0 711.5 L1220.0 712.6 L1223.0 713.6 L1226.0 714.7 L1229.0 715.8 L1232.0 716.9 L1235.0 718.0 L1238.0 719.1 L1241.0 720.1 L1244.0 721.3 L1247.0 722.4 L1250.0 723.5 L1253.0 724.6 L1256.0 725.8 L1259.0 727.0 L1262.0 728.1 L1265.0 729.3 L1268.0 730.5 L1271.0 731.7 L1274.0 732.9 L1277.0 734.1 L1280.0 735.3 L1283.0 736.5 L1286.0 737.7 L1289.0 738.8 L1292.0 740.0 L1295.0 741.1 L1298.0 742.3 L1301.0 743.4 L1304.0 744.5 L1307.0 745.5 L1310.0 746.6 L1313.0 747.7 L1316.0 748.7 L1319.0 749.7 L1322.0 750.8 L1325.0 751.8 L1328.0 752.8 L1331.0 753.8 L1334.0 754.8 L1337.0 755.7 L1340.0 756.7 L1343.0 757.6 L1346.0 758.6 L1349.0 759.5 L1352.0 760.5 L1355.0 761.4 L1358.0 762.3 L1361.0 763.3 L1364.0 764.2 L1367.0 765.2 L1370.0 766.1 L1373.0 767.0 L1376.0 768.0 L1379.0 768.9 L1382.0 769.9 L1385.0 770.8 L1388.0 771.7 L1391.0 772.7 L1394.0 773.6 L1397.0 774.6 L1400.0 775.5 L1403.0 776.5 L1406.0 777.4 L1409.0 778.4 L1412.0 779.3 L1415.0 780.2 L1418.0 781.2 L1421.0 782.1 L1424.0 783.1 L1427.0 784.0 L1430.0 785.0 L1433.0 785.9 L1436.0 786.9 L1439.0 787.8 L1442.0 788.8 L1445.0 789.7 L1448.0 790.6 L1451.0 791.6 L1454.0 792.5 L1457.0 793.4 L1460.0 794.3 L1463.0 795.2 L1466.0 796.1 L1469.0 797.0 L1472.0 797.8 L1475.0 798.7 L1478.0 799.5 L1481.0 800.3 L1484.0 801.0 L1487.0 801.8 L1490.0 802.6 L1493.0 803.3 L1496.0 804.1 L1499.0 804.8 L1502.0 805.6 L1505.0 806.3 L1508.0 807.1 L1511.0 807.8 L1514.0 808.5 L1517.0 809.3 L1520.0 810.0 L1523.0 810.8 L1526.0 811.6 L1529.0 812.3 L1532.0 813.1 L1535.0 813.9 L1538.0 814.6 L1541.0 815.4 L1544.0 816.2 L1547.0 816.9 L1550.0 817.7 L1553.0 818.5 L1556.0 819.2 L1559.0 820.0 L1562.0 820.8 L1565.0 821.5 L1568.0 822.3 L1571.0 823.0 L1574.0 823.8 L1577.0 824.5 L1580.0 825.3 L1583.0 826.0 L1586.0 826.8 L1589.0 827.5 L1592.0 828.2 L1595.0 829.0 L1598.0 829.7 L1601.0 830.4 L1604.0 831.1 L1607.0 831.8 L1610.0 832.5 L1613.0 833.2 L1616.0 833.8 L1619.0 834.5 L1622.0 835.2 L1625.0 835.8 L1628.0 836.5 L1631.0 837.1 L1634.0 837.7 L1637.0 838.3 L1640.0 838.9 L1643.0 839.6 L1646.0 840.2 L1649.0 840.8 L1652.0 841.3 L1655.0 841.9 L1658.0 842.5 L1661.0 843.1 L1664.0 843.7 L1667.0 844.2 L1670.0 844.8 L1673.0 845.4 L1676.0 845.9 L1679.0 846.5 L1682.0 847.0 L1685.0 847.6 L1688.0 848.1 L1691.0 848.7 L1694.0 849.3 L1697.0 849.8 L1700.0 850.4 L1703.0 851.0 L1706.0 851.6 L1709.0 852.2 L1712.0 852.8 L1715.0 853.4 L1718.0 854.0 L1721.0 854.6 L1724.0 855.2 L1727.0 855.8 L1730.0 856.4 L1733.0 857.1 L1736.0 857.7 L1739.0 858.3 L1742.0 858.9 L1745.0 859.5 L1748.0 860.1 L1751.0 860.7 L1754.0 861.3 L1757.0 861.8 L1760.0 862.4 L1763.0 862.9 L1766.0 863.5 L1769.0 864.0 L1772.0 864.5 L1775.0 865.1 L1778.0 865.6 L1781.0 866.1 L1784.0 866.6 L1787.0 867.1 L1790.0 867.6 L1793.0 868.1 L1796.0 868.6 L1799.0 869.1 L1802.0 869.6 L1805.0 870.1 L1808.0 870.6 L1811.0 871.1 L1814.0 871.6 L1817.0 872.1 L1820.0 872.5 L1823.0 873.0 L1826.0 873.5 L1829.0 874.0 L1832.0 874.5 L1835.0 874.9 L1838.0 875.4 L1841.0 875.9 L1844.0 876.4 L1847.0 876.9 L1850.0 877.4 L1853.0 877.8 L1856.0 878.3 L1859.0 878.8 L1862.0 879.3 L1865.0 879.8 L1868.0 880.2 L1871.0 880.7 L1874.0 881.2 L1877.0 881.7 L1880.0 882.1 L1883.0 882.6 L1886.0 883.1 L1889.0 883.6 L1892.0 884.0 L1895.0 884.5 L1898.0 885.0 L1901.0 885.4 L1904.0 885.9 L1907.0 886.4 L1910.0 886.8 L1913.0 887.3 L1916.0 887.8 L1919.0 888.2 L1922.0 888.7 L1925.0 889.1 L1928.0 889.5 L1931.0 890.0 L1934.0 890.4 L1937.0 890.8 L1940.0 891.2 L1943.0 891.6 L1946.0 892.1 L1949.0 892.5 L1952.0 892.9 L1955.0 893.3 L1958.0 893.7 L1961.0 894.1 L1964.0 894.5 L1967.0 894.9 L1970.0 895.4 L1973.0 895.8 L1976.0 896.2 L1979.0 896.6 L1982.0 897.1 L1985.0 897.5 L1988.0 898.0 L1991.0 898.4 L1994.0 898.9 L1997.0 899.4 L2000.0 899.9 L2003.0 900.5 L2006.0 901.0 L2009.0 901.5 L2012.0 902.0 L2015.0 902.6 L2018.0 903.1 L2021.0 903.6 L2024.0 904.1 L2027.0 904.6 L2030.0 905.0 L2033.0 905.4 L2036.0 905.8 L2039.0 906.1 L2042.0 906.4 L2045.0 906.7 L2048.0 907.0 L2051.0 907.2 L2054.0 907.5 L2057.0 907.8 L2060.0 908.0 L2063.0 908.3 L2066.0 908.6 L2069.0 909.0 L2072.0 909.3 L2075.0 909.7 L2078.0 910.2 L2081.0 910.6 L2084.0 911.1 L2087.0 911.6 L2090.0 912.1 L2093.0 912.6 L2096.0 913.0 L2099.0 913.5 L2102.0 914.0 L2105.0 914.5 L2108.0 914.9 L2111.0 915.3 L2114.0 915.7 L2117.0 916.1 L2120.0 916.4 L2123.0 916.8 L2126.0 917.1 L2129.0 917.4 L2132.0 917.7 L2135.0 918.0 L2138.0 918.2 L2141.0 918.5 L2144.0 918.8 L2147.0 919.1 L2150.0 919.5 L2153.0 919.8 L2156.0 920.2 L2159.0 920.5 L2162.0 920.9 L2165.0 921.3 L2168.0 921.7 L2171.0 922.1 L2174.0 922.5 L2177.0 922.8 L2180.0 923.2 L2183.0 923.6 L2186.0 924.0 L2189.0 924.4 L2192.0 924.8 L2195.0 925.1 L2198.0 925.5 L2201.0 925.9 L2204.0 926.3 L2207.0 926.7 L2210.0 927.1 L2213.0 927.5 L2216.0 927.8" stroke="#9400ff"/>
<path d="M182.0 839.6 L185.0 840.9 L188.0 842.3 L191.0 843.6 L194.0 845.0 L197.0 846.4 L200.0 847.7 L203.0 849.1 L206.0 850.4 L209.0 851.8 L212.0 853.2 L215.0 854.5 L218.0 855.8 L221.0 856.9 L224.0 857.7 L227.0 858.4 L230.0 859.0 L233.0 859.5 L236.0 860.0 L239.0 860.4 L242.0 860.9 L245.0 861.5 L248.0 862.0 L251.0 862.5 L254.0 862.9 L257.0 863.4 L260.0 863.8 L263.0 864.1 L266.0 864.4 L269.0 864.5 L272.0 864.7 L275.0 864.9 L278.0 865.0 L281.0 865.1 L284.0 865.2 L287.0 865.3 L290.0 865.4 L293.0 865.4 L296.0 865.5 L299.0 865.5 L302.0 865.6 L305.0 865.6 L308.0 865.6 L311.0 865.6 L314.0 865.6 L317.0 865.5 L320.0 865.4 L323.0 865.3 L326.0 865.2 L329.0 865.0 L332.0 864.8 L335.0 864.6 L338.0 864.4 L341.0 864.2 L344.0 864.0 L347.0 863.7 L350.0 863.5 L353.0 863.2 L356.0 863.0 L359.0 862.7 L362.0 862.5 L365.0 862.2 L368.0 862.0 L371.0 861.7 L374.0 861.5 L377.0 861.2 L380.0 860.9 L383.0 860.6 L386.0 860.4 L389.0 860.1 L392.0 859.8 L395.0 859.6 L398.0 859.3 L401.0 859.0 L404.0 858.7 L407.0 858.4 L410.0 858.2 L413.0 857.9 L416.0 857.6 L419.0 857.3 L422.0 857.0 L425.0 856.7 L428.0 856.4 L431.0 856.1 L434.0 855.8 L437.0 855.4 L440.0 855.1 L443.0 854.8 L446.0 854.4 L449.0 854.1 L452.0 853.7 L455.0 853.4 L458.0 853.0 L461.0 852.6 L464.0 852.2 L467.0 851.8 L470.0 851.4 L473.0 851.0 L476.0 850.6 L479.0 850.1 L482.0 849.7 L485.0 849.2 L488.0 848.8 L491.0 848.3 L494.0 847.8 L497.0 847.3 L500.0 846.8 L503.0 846.3 L506.0 845.7 L509.0 845.2 L512.0 844.6 L515.0 844.1 L518.0 843.5 L521.0 842.9 L524.0 842.3 L527.0 841.8 L530.0 841.2 L533.0 840.6 L536.0 840.0 L539.0 839.4 L542.0 838.7 L545.0 838.1 L548.0 837.5 L551.0 836.9 L554.0 836.3 L557.0 835.6 L560.0 835.0 L563.0 834.4 L566.0 833.8 L569.0 833.1 L572.0 832.5 L575.0 831.9 L578.0 831.2 L581.0 830.6 L584.0 830.0 L587.0 829.3 L590.0 828.7 L593.0 828.0 L596.0 827.4 L599.0 826.7 L602.0 826.1 L605.0 825.4 L608.0 824.8 L611.0 824.1 L614.0 823.5 L617.0 822.8 L620.0 822.1 L623.0 821.4 L626.0 820.8 L629.0 820.1 L632.0 819.4 L635.0 818.7 L638.0 818.0 L641.0 817.3 L644.0 816.6 L647.0 815.9 L650.0 815.1 L653.0 814.4 L656.0 813.7 L659.0 812.9 L662.0 812.2 L665.0 811.5 L668.0 810.7 L671.0 810.0 L674.0 809.2 L677.0 808.5 L680.0 807.8 L683.0 807.1 L686.0 806.3 L689.0 805.6 L692.0 804.9 L695.0 804.2 L698.0 803.5 L701.0 802.8 L704.0 802.1 L707.0 801.4 L710.0 800.7 L713.0 800.1 L716.0 799.4 L719.0 798.8 L722.0 798.2 L725.0 797.6 L728.0 797.0 L731.0 796.4 L734.0 795.8 L737.0 795.2 L740.0 794.6 L743.0 794.1 L746.0 793.5 L749.0 793.0 L752.0 792.5 L755.0 792.0 L758.0 791.4 L761.0 790.9 L764.0 790.5 L767.0 790.0 L770.0 789.6 L773.0 789.1 L776.0 788.7 L779.0 788.4 L782.0 788.0 L785.0 787.7 L788.0 787.4 L791.0 787.1 L794.0 786.9 L797.0 786.6 L800.0 786.4 L803.0 786.2 L806.0 786.0 L809.0 785.8 L812.0 785.7 L815.0 785.5 L818.0 785.4 L821.0 785.2 L824.0 785.1 L827.0 785.0 L830.0 784.9 L833.0 784.8 L836.0 784.7 L839.0 784.7 L842.0 784.6 L845.0 784.5 L848.0 784.5 L851.0 784.4 L854.0 784.4 L857.0 784.4 L860.0 784.4 L863.0 784.4 L866.0 784.4 L869.0 784.5 L872.0 784.5 L875.0 784.6 L878.0 784.7 L881.0 784.9 L884.0 785.0 L887.0 785.2 L890.0 785.4 L893.0 785.7 L896.0 785.9 L899.0 786.3 L902.0 786.6 L905.0 787.0 L908.0 787.4 L911.0 787.8 L914.0 788.3 L917.0 788.7 L920.0 789.2 L923.0 789.7 L926.0 790.2 L929.0 790.8 L932.0 791.3 L935.0 791.9 L938.0 792.4 L941.0 793.0 L944.0 793.6 L947.0 794.2 L950.0 794.8 L953.0 795.5 L956.0 796.1 L959.0 796.8 L962.0 797.4 L965.0 798.1 L968.0 798.8 L971.0 799.5 L974.0 800.2 L977.0 800.9 L980.0 801.6 L983.0 802.3 L986.0 803.0 L989.0 803.7 L992.0 804.5 L995.0 805.2 L998.0 805.9 L1001.0 806.6 L1004.0 807.3 L1007.0 808.1 L1010.0 808.8 L1013.0 809.6 L1016.0 810.3 L1019.0 811.1 L1022.0 811.9 L1025.0 812.7 L1028.0 813.5 L1031.0 814.3 L1034.0 815.2 L1037.0 816.1 L1040.0 817.0 L1043.0 817.9 L1046.0 818.9 L1049.0 819.9 L1052.0 820.9 L1055.0 821.9 L1058.0 822.9 L1061.0 824.0 L1064.0 825.1 L1067.0 826.2 L1070.0 827.3 L1073.0 828.4 L1076.0 829.5 L1079.0 830.6 L1082.0 831.8 L1085.0 832.9 L1088.0 834.0 L1091.0 835.2 L1094.0 836.3 L1097.0 837.5 L1100.0 838.6 L1103.0 839.7 L1106.0 840.8 L1109.0 842.0 L1112.0 843.1 L1115.0 844.2 L1118.0 845.3 L1121.0 846.3 L1124.0 847.4 L1127.0 848.4 L1130.0 849.5 L1133.0 850.5 L1136.0 851.5 L1139.0 852.5 L1142.0 853.6 L1145.0 854.6 L1148.0 855.6 L1151.0 856.6 L1154.0 857.6 L1157.0 858.6 L1160.0 859.6 L1163.0 860.6 L1166.0 861.6 L1169.0 862.6 L1172.0 863.7 L1175.0 864.7 L1178.0 865.7 L1181.0 866.7 L1184.0 867.8 L1187.0 868.8 L1190.0 869.9 L1193.0 871.0 L1196.0 872.0 L1199.0 873.1 L1202.0 874.2 L1205.0 875.3 L1208.0 876.5 L1211.0 877.6 L1214.0 878.7 L1217.0 879.8 L1220.0 880.9 L1223.0 882.0 L1226.0 883.2 L1229.0 884.3 L1232.0 885.4 L1235.0 886.5 L1238.0 887.7 L1241.0 888.8 L1244.0 889.9 L1247.0 891.1 L1250.0 892.2 L1253.0 893.4 L1256.0 894.6 L1259.0 895.7 L1262.0 896.9 L1265.0 898.1 L1268.0 899.2 L1271.0 900.4 L1274.0 901.5 L1277.0 902.6 L1280.0 903.7 L1283.0 904.8 L1286.0 905.8 L1289.0 906.9 L1292.0 907.9 L1295.0 908.9 L1298.0 909.9 L1301.0 910.9 L1304.0 911.9 L1307.0 912.9 L1310.0 913.8 L1313.0 914.8 L1316.0 915.8 L1319.0 916.8 L1322.0 917.8 L1325.0 918.7 L1328.0 919.7 L1331.0 920.7 L1334.0 921.7 L1337.0 922.7 L1340.0 923.7 L1343.0 924.7 L1346.0 925.7 L1349.0 926.6 L1352.0 927.6 L1355.0 928.6 L1358.0 929.6 L1361.0 930.6 L1364.0 931.6 L1367.0 932.6 L1370.0 933.5 L1373.0 934.5 L1376.0 935.5 L1379.0 936.5 L1382.0 937.4 L1385.0 938.4 L1388.0 939.2 L1391.0 940.1 L1394.0 940.8 L1397.0 941.6 L1400.0 942.4 L1403.0 943.1 L1406.0 943.9 L1409.0 944.6 L1412.0 945.4 L1415.0 946.2 L1418.0 947.0 L1421.0 947.8 L1424.0 948.7 L1427.0 949.7 L1430.0 950.7 L1433.0 951.7 L1436.0 952.8 L1439.0 953.9 L1442.0 955.0 L1445.0 956.1 L1448.0 957.2 L1451.0 958.3 L1454.0 959.3 L1457.0 960.3 L1460.0 961.2 L1463.0 962.1 L1466.0 962.9 L1469.0 963.7 L1472.0 964.4 L1475.0 965.2 L1478.0 965.9 L1481.0 966.7 L1484.0 967.5 L1487.0 968.2 L1490.0 969.0 L1493.0 969.7 L1496.0 970.5 L1499.0 971.2 L1502.0 972.0 L1505.0 972.8 L1508.0 973.5 L1511.0 974.3 L1514.0 975.1 L1517.0 975.8 L1520.0 976.6 L1523.0 977.4 L1526.0 978.2 L1529.0 978.9 L1532.0 979.7 L1535.0 980.5 L1538.0 981.2 L1541.0 982.0 L1544.0 982.8 L1547.0 983.6 L1550.0 984.3 L1553.0 985.1 L1556.0 985.9 L1559.0 986.6 L1562.0 987.4 L1565.0 988.2 L1568.0 989.0 L1571.0 989.7 L1574.0 990.5 L1577.0 991.3 L1580.0 992.1 L1583.0 992.8 L1586.0 993.6 L1589.0 994.3 L1592.0 995.1 L1595.0 995.8 L1598.0 996.5 L1601.0 997.1 L1604.0 997.8 L1607.0 998.5 L1610.0 999.1 L1613.0 999.7 L1616.0 1000.4 L1619.0 1001.0 L1622.0 1001.6 L1625.0 1002.3 L1628.0 1002.9 L1631.0 1003.5 L1634.0 1004.1 L1637.0 1004.8 L1640.0 1005.4 L1643.0 1006.0 L1646.0 1006.6 L1649.0 1007.3 L1652.0 1007.9 L1655.0 1008.5 L1658.0 1009.2 L1661.0 1009.8 L1664.0 1010.4 L1667.0 1011.0 L1670.0 1011.7 L1673.0 1012.3 L1676.0 1012.9 L1679.0 1013.5 L1682.0 1014.2 L1685.0 1014.8 L1688.0 1015.4 L1691.0 1016.0 L1694.0 1016.6 L1697.0 1017.1 L1700.0 1017.6 L1703.0 1018.0 L1706.0 1018.5 L1709.0 1018.9 L1712.0 1019.3 L1715.0 1019.7 L1718.0 1020.1 L1721.0 1020.5 L1724.0 1020.9 L1727.0 1021.3 L1730.0 1021.8 L1733.0 1022.3 L1736.0 1022.8 L1739.0 1023.3 L1742.0 1023.9 L1745.0 1024.6 L1748.0 1025.4 L1751.0 1026.2 L1754.0 1027.1 L1757.0 1027.9 L1760.0 1028.6 L1763.0 1029.2 L1766.0 1029.8 L1769.0 1030.3 L1772.0 1030.8 L1775.0 1031.3 L1778.0 1031.8 L1781.0 1032.3 L1784.0 1032.8 L1787.0 1033.3 L1790.0 1033.9 L1793.0 1034.4 L1796.0 1034.9 L1799.0 1035.4 L1802.0 1035.9 L1805.0 1036.4 L1808.0 1036.9 L1811.0 1037.3 L1814.0 1037.8 L1817.0 1038.3 L1820.0 1038.8 L1823.0 1039.3 L1826.0 1039.8 L1829.0 1040.3 L1832.0 1040.8 L1835.0 1041.3 L1838.0 1041.7 L1841.0 1042.2 L1844.0 1042.7 L1847.0 1043.2 L1850.0 1043.7 L1853.0 1044.2 L1856.0 1044.6 L1859.0 1045.1 L1862.0 1045.6 L1865.0 1046.1 L1868.0 1046.6 L1871.0 1047.1 L1874.0 1047.6 L1877.0 1048.0 L1880.0 1048.5 L1883.0 1049.0 L1886.0 1049.5 L1889.0 1049.9 L1892.0 1050.4 L1895.0 1050.9 L1898.0 1051.3 L1901.0 1051.8 L1904.0 1052.3 L1907.0 1052.7 L1910.0 1053.2 L1913.0 1053.6 L1916.0 1054.0 L1919.0 1054.4 L1922.0 1054.9 L1925.0 1055.3 L1928.0 1055.7 L1931.0 1056.1 L1934.0 1056.5 L1937.0 1056.9 L1940.0 1057.3 L1943.0 1057.7 L1946.0 1058.1 L1949.0 1058.5 L1952.0 1058.9 L1955.0 1059.3 L1958.0 1059.6 L1961.0 1060.0 L1964.0 1060.4 L1967.0 1060.8 L1970.0 1061.2 L1973.0 1061.6 L1976.0 1062.0 L1979.0 1062.4 L1982.0 1062.8 L1985.0 1063.2 L1988.0 1063.6 L1991.0 1064.1 L1994.0 1064.5 L1997.0 1064.9 L2000.0 1065.3 L2003.0 1065.8 L2006.0 1066.2 L2009.0 1066.7 L2012.0 1067.1 L2015.0 1067.5 L2018.0 1067.9 L2021.0 1068.4 L2024.0 1068.8 L2027.0 1069.2 L2030.0 1069.6 L2033.0 1070.0 L2036.0 1070.3 L2039.0 1070.7 L2042.0 1071.0 L2045.0 1071.3 L2048.0 1071.6 L2051.0 1071.9 L2054.0 1072.2 L2057.0 1072.5 L2060.0 1072.8 L2063.0 1073.1 L2066.0 1073.3 L2069.0 1073.6 L2072.0 1073.8 L2075.0 1074.1 L2078.0 1074.4 L2081.0 1074.7 L2084.0 1075.2 L2087.0 1075.9 L2090.0 1076.8 L2093.0 1077.7 L2096.0 1078.5 L2099.0 1078.9 L2102.0 1079.2 L2105.0 1079.5 L2108.0 1079.8 L2111.0 1080.1 L2114.0 1080.3 L2117.0 1080.6 L2120.0 1080.8 L2123.0 1081.0 L2126.0 1081.3 L2129.0 1081.5 L2132.0 1081.6 L2135.0 1081.8 L2138.0 1082.0 L2141.0 1082.2 L2144.0 1082.4 L2147.0 1082.6 L2150.0 1082.9 L2153.0 1083.2 L2156.0 1083.8 L2159.0 1084.4 L2162.0 1085.1 L2165.0 1085.7 L2168.0 1086.3 L2171.0 1086.8 L2174.0 1087.2 L2177.0 1087.5 L2180.0 1087.7 L2183.0 1087.9 L2186.0 1088.1 L2189.0 1088.4 L2192.0 1088.6 L2195.0 1088.8 L2198.0 1089.0 L2201.0 1089.3 L2204.0 1089.5 L2207.0 1089.7 L2210.0 1090.0 L2213.0 1090.2 L2216.0 1090.4" stroke="#008080"/>
<path d="M182.0 1017.4 L185.0 1017.7 L188.0 1017.9 L191.0 1018.2 L194.0 1018.5 L197.0 1018.8 L200.0 1019.1 L203.0 1019.3 L206.0 1019.6 L209.0 1019.9 L212.0 1020.2 L215.0 1020.4 L218.0 1020.7 L221.0 1021.0 L224.0 1021.3 L227.0 1021.5 L230.0 1021.8 L233.0 1022.1 L236.0 1022.4 L239.0 1022.6 L242.0 1022.9 L245.0 1023.2 L248.0 1023.5 L251.0 1023.7 L254.0 1024.0 L257.0 1024.3 L260.0 1024.6 L263.0 1024.8 L266.0 1025.1 L269.0 1025.4 L272.0 1025.6 L275.0 1025.8 L278.0 1026.0 L281.0 1026.2 L284.0 1026.4 L287.0 1026.6 L290.0 1026.8 L293.0 1026.9 L296.0 1027.1 L299.0 1027.2 L302.0 1027.4 L305.0 1027.5 L308.0 1027.6 L311.0 1027.7 L314.0 1027.8 L317.0 1027.9 L320.0 1028.0 L323.0 1028.0 L326.0 1028.1 L329.0 1028.2 L332.0 1028.2 L335.0 1028.3 L338.0 1028.4 L341.0 1028.4 L344.0 1028.4 L347.0 1028.5 L350.0 1028.5 L353.0 1028.5 L356.0 1028.5 L359.0 1028.5 L362.0 1028.6 L365.0 1028.6 L368.0 1028.6 L371.0 1028.5 L374.0 1028.5 L377.0 1028.5 L380.0 1028.5 L383.0 1028.5 L386.0 1028.5 L389.0 1028.4 L392.0 1028.4 L395.0 1028.4 L398.0 1028.3 L401.0 1028.3 L404.0 1028.2 L407.0 1028.2 L410.0 1028.2 L413.0 1028.1 L416.0 1028.1 L419.0 1028.0 L422.0 1027.9 L425.0 1027.9 L428.0 1027.8 L431.0 1027.7 L434.0 1027.7 L437.0 1027.6 L440.0 1027.5 L443.0 1027.4 L446.0 1027.3 L449.0 1027.2 L452.0 1027.1 L455.0 1027.0 L458.0 1026.9 L461.0 1026.8 L464.0 1026.7 L467.0 1026.6 L470.0 1026.5 L473.0 1026.4 L476.0 1026.3 L479.0 1026.1 L482.0 1026.0 L485.0 1025.9 L488.0 1025.7 L491.0 1025.6 L494.0 1025.4 L497.0 1025.3 L500.0 1025.1 L503.0 1024.9 L506.0 1024.7 L509.0 1024.5 L512.0 1024.3 L515.0 1024.1 L518.0 1023.9 L521.0 1023.7 L524.0 1023.4 L527.0 1023.1 L530.0 1022.9 L533.0 1022.6 L536.0 1022.3 L539.0 1021.9 L542.0 1021.6 L545.0 1021.2 L548.0 1020.9 L551.0 1020.5 L554.0 1020.1 L557.0 1019.7 L560.0 1019.3 L563.0 1018.8 L566.0 1018.4 L569.0 1018.0 L572.0 1017.5 L575.0 1017.1 L578.0 1016.6 L581.0 1016.2 L584.0 1015.7 L587.0 1015.2 L590.0 1014.8 L593.0 1014.3 L596.0 1013.8 L599.0 1013.3 L602.0 1012.8 L605.0 1012.3 L608.0 1011.8 L611.0 1011.3 L614.0 1010.8 L617.0 1010.3 L620.0 1009.8 L623.0 1009.2 L626.0 1008.7 L629.0 1008.2 L632.0 1007.7 L635.0 1007.1 L638.0 1006.6 L641.0 1006.1 L644.0 1005.5 L647.0 1005.0 L650.0 1004.5 L653.0 1003.9 L656.0 1003.4 L659.0 1002.8 L662.0 1002.3 L665.0 1001.7 L668.0 1001.2 L671.0 1000.7 L674.0 1000.1 L677.0 999.6 L680.0 999.0 L683.0 998.5 L686.0 998.0 L689.0 997.4 L692.0 996.9 L695.0 996.4 L698.0 995.8 L701.0 995.3 L704.0 994.8 L707.0 994.3 L710.0 993.8 L713.0 993.3 L716.0 992.8 L719.0 992.3 L722.0 991.8 L725.0 991.4 L728.0 990.9 L731.0 990.4 L734.0 990.0 L737.0 989.5 L740.0 989.0 L743.0 988.6 L746.0 988.1 L749.0 987.7 L752.0 987.3 L755.0 986.9 L758.0 986.5 L761.0 986.1 L764.0 985.7 L767.0 985.4 L770.0 985.1 L773.0 984.8 L776.0 984.6 L779.0 984.3 L782.0 984.1 L785.0 983.9 L788.0 983.7 L791.0 983.5 L794.0 983.3 L797.0 983.1 L800.0 983.0 L803.0 982.9 L806.0 982.8 L809.0 982.7 L812.0 982.6 L815.0 982.5 L818.0 982.4 L821.0 982.4 L824.0 982.4 L827.0 982.5 L830.0 982.5 L833.0 982.6 L836.0 982.7 L839.0 982.8 L842.0 982.9 L845.0 983.1 L848.0 983.2 L851.0 983.4 L854.0 983.6 L857.0 983.8 L860.0 984.1 L863.0 984.3 L866.0 984.6 L869.0 984.9 L872.0 985.2 L875.0 985.5 L878.0 985.8 L881.0 986.2 L884.0 986.5 L887.0 986.9 L890.0 987.3 L893.0 987.7 L896.0 988.1 L899.0 988.6 L902.0 989.0 L905.0 989.5 L908.0 990.0 L911.0 990.5 L914.0 991.0 L917.0 991.5 L920.0 992.1 L923.0 992.6 L926.0 993.1 L929.0 993.7 L932.0 994.2 L935.0 994.8 L938.0 995.4 L941.0 996.0 L944.0 996.6 L947.0 997.2 L950.0 997.9 L953.0 998.5 L956.0 999.2 L959.0 999.9 L962.0 1000.6 L965.0 1001.3 L968.0 1002.0 L971.0 1002.8 L974.0 1003.6 L977.0 1004.4 L980.0 1005.2 L983.0 1006.0 L986.0 1006.9 L989.0 1007.7 L992.0 1008.6 L995.0 1009.4 L998.0 1010.3 L1001.0 1011.2 L1004.0 1012.0 L1007.0 1012.9 L1010.0 1013.8 L1013.0 1014.7 L1016.0 1015.6 L1019.0 1016.5 L1022.0 1017.4 L1025.0 1018.3 L1028.0 1019.2 L1031.0 1020.2 L1034.0 1021.1 L1037.0 1022.1 L1040.0 1023.0 L1043.0 1024.0 L1046.0 1024.9 L1049.0 1025.9 L1052.0 1026.9 L1055.0 1027.9 L1058.0 1028.8 L1061.0 1029.8 L1064.0 1030.8 L1067.0 1031.8 L1070.0 1032.8 L1073.0 1033.8 L1076.0 1034.8 L1079.0 1035.9 L1082.0 1036.9 L1085.0 1037.9 L1088.0 1038.9 L1091.0 1039.9 L1094.0 1040.9 L1097.0 1041.9 L1100.0 1042.9 L1103.0 1043.9 L1106.0 1044.9 L1109.0 1045.9 L1112.0 1046.9 L1115.0 1047.9 L1118.0 1048.9 L1121.0 1049.8 L1124.0 1050.8 L1127.0 1051.8 L1130.0 1052.7 L1133.0 1053.7 L1136.0 1054.7 L1139.0 1055.6 L1142.0 1056.6 L1145.0 1057.5 L1148.0 1058.5 L1151.0 1059.4 L1154.0 1060.4 L1157.0 1061.3 L1160.0 1062.3 L1163.0 1063.2 L1166.0 1064.2 L1169.0 1065.1 L1172.0 1066.0 L1175.0 1067.0 L1178.0 1067.9 L1181.0 1068.8 L1184.0 1069.8 L1187.0 1070.7 L1190.0 1071.6 L1193.0 1072.5 L1196.0 1073.5 L1199.0 1074.4 L1202.0 1075.3 L1205.0 1076.2 L1208.0 1077.1 L1211.0 1078.1 L1214.0 1079.0 L1217.0 1079.9 L1220.0 1080.8 L1223.0 1081.7 L1226.0 1082.6 L1229.0 1083.5 L1232.0 1084.4 L1235.0 1085.2 L1238.0 1086.1 L1241.0 1087.0 L1244.0 1087.9 L1247.0 1088.7 L1250.0 1089.6 L1253.0 1090.4 L1256.0 1091.2 L1259.0 1092.1 L1262.0 1092.9 L1265.0 1093.7 L1268.0 1094.5 L1271.0 1095.3 L1274.0 1096.1 L1277.0 1096.9 L1280.0 1097.7 L1283.0 1098.4 L1286.0 1099.2 L1289.0 1100.0 L1292.0 1100.8 L1295.0 1101.6 L1298.0 1102.3 L1301.0 1103.1 L1304.0 1103.9 L1307.0 1104.6 L1310.0 1105.4 L1313.0 1106.2 L1316.0 1106.9 L1319.0 1107.7 L1322.0 1108.5 L1325.0 1109.2 L1328.0 1110.0 L1331.0 1110.8 L1334.0 1111.5 L1337.0 1112.3 L1340.0 1113.1 L1343.0 1113.8 L1346.0 1114.6 L1349.0 1115.4 L1352.0 1116.2 L1355.0 1116.9 L1358.0 1117.7 L1361.0 1118.5 L1364.0 1119.2 L1367.0 1120.0 L1370.0 1120.8 L1373.0 1121.5 L1376.0 1122.3 L1379.0 1123.0 L1382.0 1123.8 L1385.0 1124.5 L1388.0 1125.3 L1391.0 1126.0 L1394.0 1126.7 L1397.0 1127.4 L1400.0 1128.2 L1403.0 1128.9 L1406.0 1129.6 L1409.0 1130.3 L1412.0 1130.9 L1415.0 1131.6 L1418.0 1132.3 L1421.0 1132.9 L1424.0 1133.6 L1427.0 1134.2 L1430.0 1134.8 L1433.0 1135.4 L1436.0 1136.0 L1439.0 1136.6 L1442.0 1137.2 L1445.0 1137.8 L1448.0 1138.3 L1451.0 1138.9 L1454.0 1139.5 L1457.0 1140.1 L1460.0 1140.6 L1463.0 1141.2 L1466.0 1141.7 L1469.0 1142.3 L1472.0 1142.9 L1475.0 1143.4 L1478.0 1144.0 L1481.0 1144.6 L1484.0 1145.2 L1487.0 1145.8 L1490.0 1146.3 L1493.0 1146.9 L1496.0 1147.5 L1499.0 1148.1 L1502.0 1148.7 L1505.0 1149.3 L1508.0 1149.9 L1511.0 1150.4 L1514.0 1151.0 L1517.0 1151.6 L1520.0 1152.2 L1523.0 1152.7 L1526.0 1153.3 L1529.0 1153.8 L1532.0 1154.3 L1535.0 1154.9 L1538.0 1155.4 L1541.0 1155.9 L1544.0 1156.4 L1547.0 1156.9 L1550.0 1157.3 L1553.0 1157.8 L1556.0 1158.2 L1559.0 1158.7 L1562.0 1159.1 L1565.0 1159.5 L1568.0 1159.9 L1571.0 1160.3 L1574.0 1160.7 L1577.0 1161.1 L1580.0 1161.5 L1583.0 1161.9 L1586.0 1162.3 L1589.0 1162.7 L1592.0 1163.1 L1595.0 1163.4 L1598.0 1163.8 L1601.0 1164.2 L1604.0 1164.6 L1607.0 1165.0 L1610.0 1165.4 L1613.0 1165.8 L1616.0 1166.2 L1619.0 1166.6 L1622.0 1167.0 L1625.0 1167.4 L1628.0 1167.8 L1631.0 1168.3 L1634.0 1168.7 L1637.0 1169.1 L1640.0 1169.5 L1643.0 1169.9 L1646.0 1170.4 L1649.0 1170.8 L1652.0 1171.2 L1655.0 1171.6 L1658.0 1172.1 L1661.0 1172.5 L1664.0 1172.9 L1667.0 1173.3 L1670.0 1173.8 L1673.0 1174.2 L1676.0 1174.6 L1679.0 1175.0 L1682.0 1175.4 L1685.0 1175.9 L1688.0 1176.3 L1691.0 1176.7 L1694.0 1177.1 L1697.0 1177.6 L1700.0 1178.0 L1703.0 1178.4 L1706.0 1178.9 L1709.0 1179.3 L1712.0 1179.7 L1715.0 1180.2 L1718.0 1180.6 L1721.0 1181.1 L1724.0 1181.5 L1727.0 1182.0 L1730.0 1182.4 L1733.0 1182.9 L1736.0 1183.3 L1739.0 1183.8 L1742.0 1184.2 L1745.0 1184.7 L1748.0 1185.1 L1751.0 1185.6 L1754.0 1186.0 L1757.0 1186.4 L1760.0 1186.9 L1763.0 1187.3 L1766.0 1187.7 L1769.0 1188.1 L1772.0 1188.5 L1775.0 1188.8 L1778.0 1189.2 L1781.0 1189.5 L1784.0 1189.9 L1787.0 1190.2 L1790.0 1190.5 L1793.0 1190.8 L1796.0 1191.1 L1799.0 1191.4 L1802.0 1191.7 L1805.0 1192.0 L1808.0 1192.3 L1811.0 1192.6 L1814.0 1192.8 L1817.0 1193.1 L1820.0 1193.3 L1823.0 1193.6 L1826.0 1193.8 L1829.0 1194.1 L1832.0 1194.3 L1835.0 1194.6 L1838.0 1194.8 L1841.0 1195.1 L1844.0 1195.3 L1847.0 1195.5 L1850.0 1195.8 L1853.0 1196.0 L1856.0 1196.2 L1859.0 1196.4 L1862.0 1196.7 L1865.0 1196.9 L1868.0 1197.1 L1871.0 1197.3 L1874.0 1197.5 L1877.0 1197.8 L1880.0 1198.0 L1883.0 1198.2 L1886.0 1198.4 L1889.0 1198.6 L1892.0 1198.9 L1895.0 1199.1 L1898.0 1199.3 L1901.0 1199.5 L1904.0 1199.8 L1907.0 1200.0 L1910.0 1200.3 L1913.0 1200.5 L1916.0 1200.8 L1919.0 1201.0 L1922.0 1201.3 L1925.0 1201.5 L1928.0 1201.8 L1931.0 1202.0 L1934.0 1202.3 L1937.0 1202.5 L1940.0 1202.8 L1943.0 1203.1 L1946.0 1203.3 L1949.0 1203.6 L1952.0 1203.9 L1955.0 1204.1 L1958.0 1204.4 L1961.0 1204.7 L1964.0 1205.0 L1967.0 1205.3 L1970.0 1205.5 L1973.0 1205.8 L1976.0 1206.1 L1979.0 1206.4 L1982.0 1206.7 L1985.0 1207.0 L1988.0 1207.4 L1991.0 1207.7 L1994.0 1208.0 L1997.0 1208.4 L2000.0 1208.7 L2003.0 1209.1 L2006.0 1209.5 L2009.0 1209.9 L2012.0 1210.3 L2015.0 1210.7 L2018.0 1211.0 L2021.0 1211.4 L2024.0 1211.8 L2027.0 1212.2 L2030.0 1212.5 L2033.0 1212.8 L2036.0 1213.2 L2039.0 1213.5 L2042.0 1213.8 L2045.0 1214.0 L2048.0 1214.3 L2051.0 1214.6 L2054.0 1214.9 L2057.0 1215.1 L2060.0 1215.3 L2063.0 1215.4 L2066.0 1215.4 L2069.0 1215.5 L2072.0 1215.5 L2075.0 1215.5 L2078.0 1215.6 L2081.0 1215.8 L2084.0 1216.1 L2087.0 1216.5 L2090.0 1217.1 L2093.0 1217.8 L2096.0 1218.4 L2099.0 1219.0 L2102.0 1219.6 L2105.0 1220.0 L2108.0 1220.2 L2111.0 1220.2 L2114.0 1220.1 L2117.0 1220.0 L2120.0 1219.8 L2123.0 1219.7 L2126.0 1219.6 L2129.0 1219.6 L2132.0 1219.7 L2135.0 1219.9 L2138.0 1220.1 L2141.0 1220.4 L2144.0 1220.6 L2147.0 1220.9 L2150.0 1221.2 L2153.0 1221.4 L2156.0 1221.7 L2159.0 1222.0 L2162.0 1222.3 L2165.0 1222.7 L2168.0 1223.0 L2171.0 1223.4 L2174.0 1223.7 L2177.0 1224.1 L2180.0 1224.3 L2183.0 1224.0 L2186.0 1223.4 L2189.0 1222.9 L2192.0 1223.2 L2195.0 1224.0 L2198.0 1224.8 L2201.0 1225.7 L2204.0 1226.5 L2207.0 1227.3 L2210.0 1228.2 L2213.0 1229.0 L2216.0 1229.8" stroke="#ff00ff"/>
<path d="M182.0 1107.0 L185.0 1107.1 L188.0 1107.2 L191.0 1107.4 L194.0 1107.5 L197.0 1107.6 L200.0 1107.8 L203.0 1107.9 L206.0 1108.0 L209.0 1108.2 L212.0 1108.3 L215.0 1108.5 L218.0 1108.6 L221.0 1108.7 L224.0 1108.9 L227.0 1109.0 L230.0 1109.1 L233.0 1109.3 L236.0 1109.4 L239.0 1109.5 L242.0 1109.7 L245.0 1109.8 L248.0 1109.9 L251.0 1110.1 L254.0 1110.2 L257.0 1110.4 L260.0 1110.5 L263.0 1110.6 L266.0 1110.8 L269.0 1110.9 L272.0 1111.0 L275.0 1111.1 L278.0 1111.2 L281.0 1111.4 L284.0 1111.5 L287.0 1111.6 L290.0 1111.7 L293.0 1111.7 L296.0 1111.8 L299.0 1111.9 L302.0 1112.0 L305.0 1112.0 L308.0 1112.1 L311.0 1112.2 L314.0 1112.2 L317.0 1112.3 L320.0 1112.3 L323.0 1112.3 L326.0 1112.4 L329.0 1112.4 L332.0 1112.4 L335.0 1112.4 L338.0 1112.4 L341.0 1112.4 L344.0 1112.4 L347.0 1112.3 L350.0 1112.3 L353.0 1112.3 L356.0 1112.2 L359.0 1112.2 L362.0 1112.1 L365.0 1112.0 L368.0 1112.0 L371.0 1111.9 L374.0 1111.8 L377.0 1111.7 L380.0 1111.7 L383.0 1111.6 L386.0 1111.5 L389.0 1111.4 L392.0 1111.3 L395.0 1111.2 L398.0 1111.1 L401.0 1111.0 L404.0 1110.9 L407.0 1110.8 L410.0 1110.7 L413.0 1110.6 L416.0 1110.5 L419.0 1110.4 L422.0 1110.3 L425.0 1110.2 L428.0 1110.1 L431.0 1110.0 L434.0 1109.9 L437.0 1109.7 L440.0 1109.6 L443.0 1109.5 L446.0 1109.4 L449.0 1109.2 L452.0 1109.1 L455.0 1109.0 L458.0 1108.8 L461.0 1108.7 L464.0 1108.5 L467.0 1108.4 L470.0 1108.2 L473.0 1108.1 L476.0 1107.9 L479.0 1107.8 L482.0 1107.6 L485.0 1107.4 L488.0 1107.2 L491.0 1107.0 L494.0 1106.8 L497.0 1106.6 L500.0 1106.4 L503.0 1106.2 L506.0 1106.0 L509.0 1105.7 L512.0 1105.5 L515.0 1105.2 L518.0 1105.0 L521.0 1104.7 L524.0 1104.4 L527.0 1104.0 L530.0 1103.7 L533.0 1103.4 L536.0 1103.0 L539.0 1102.6 L542.0 1102.2 L545.0 1101.8 L548.0 1101.4 L551.0 1100.9 L554.0 1100.4 L557.0 1100.0 L560.0 1099.5 L563.0 1099.0 L566.0 1098.5 L569.0 1098.1 L572.0 1097.6 L575.0 1097.1 L578.0 1096.6 L581.0 1096.2 L584.0 1095.7 L587.0 1095.2 L590.0 1094.7 L593.0 1094.3 L596.0 1093.8 L599.0 1093.3 L602.0 1092.8 L605.0 1092.4 L608.0 1091.9 L611.0 1091.4 L614.0 1090.9 L617.0 1090.5 L620.0 1090.0 L623.0 1089.5 L626.0 1089.0 L629.0 1088.6 L632.0 1088.1 L635.0 1087.6 L638.0 1087.1 L641.0 1086.7 L644.0 1086.2 L647.0 1085.7 L650.0 1085.2 L653.0 1084.8 L656.0 1084.3 L659.0 1083.8 L662.0 1083.3 L665.0 1082.9 L668.0 1082.4 L671.0 1081.9 L674.0 1081.4 L677.0 1081.0 L680.0 1080.5 L683.0 1080.0 L686.0 1079.5 L689.0 1079.1 L692.0 1078.6 L695.0 1078.2 L698.0 1077.8 L701.0 1077.4 L704.0 1077.1 L707.0 1076.8 L710.0 1076.6 L713.0 1076.3 L716.0 1076.1 L719.0 1075.9 L722.0 1075.7 L725.0 1075.5 L728.0 1075.3 L731.0 1075.2 L734.0 1075.0 L737.0 1074.8 L740.0 1074.6 L743.0 1074.4 L746.0 1074.2 L749.0 1074.0 L752.0 1073.9 L755.0 1073.7 L758.0 1073.6 L761.0 1073.5 L764.0 1073.4 L767.0 1073.3 L770.0 1073.2 L773.0 1073.2 L776.0 1073.1 L779.0 1073.1 L782.0 1073.1 L785.0 1073.1 L788.0 1073.1 L791.0 1073.2 L794.0 1073.3 L797.0 1073.4 L800.0 1073.6 L803.0 1073.8 L806.0 1074.0 L809.0 1074.3 L812.0 1074.6 L815.0 1074.9 L818.0 1075.3 L821.0 1075.6 L824.0 1076.0 L827.0 1076.4 L830.0 1076.8 L833.0 1077.2 L836.0 1077.6 L839.0 1078.1 L842.0 1078.6 L845.0 1079.0 L848.0 1079.5 L851.0 1080.1 L854.0 1080.6 L857.0 1081.2 L860.0 1081.8 L863.0 1082.4 L866.0 1083.0 L869.0 1083.6 L872.0 1084.3 L875.0 1084.9 L878.0 1085.6 L881.0 1086.3 L884.0 1087.1 L887.0 1087.8 L890.0 1088.6 L893.0 1089.3 L896.0 1090.1 L899.0 1090.9 L902.0 1091.7 L905.0 1092.5 L908.0 1093.4 L911.0 1094.3 L914.0 1095.3 L917.0 1096.3 L920.0 1097.4 L923.0 1098.5 L926.0 1099.7 L929.0 1100.9 L932.0 1102.3 L935.0 1103.7 L938.0 1105.0 L941.0 1106.4 L944.0 1107.8 L947.0 1109.1 L950.0 1110.5 L953.0 1111.9 L956.0 1113.2 L959.0 1114.6 L962.0 1116.0 L965.0 1117.3 L968.0 1118.7 L971.0 1120.1 L974.0 1121.5 L977.0 1122.8 L980.0 1124.2 L983.0 1125.6 L986.0 1126.9 L989.0 1128.3 L992.0 1129.7 L995.0 1131.0 L998.0 1132.4 L1001.0 1133.8 L1004.0 1135.2 L1007.0 1136.5 L1010.0 1137.9 L1013.0 1139.3 L1016.0 1140.6 L1019.0 1142.0 L1022.0 1143.4 L1025.0 1144.8 L1028.0 1146.2 L1031.0 1147.6 L1034.0 1149.2 L1037.0 1150.7 L1040.0 1152.4 L1043.0 1154.0 L1046.0 1155.7 L1049.0 1157.4 L1052.0 1159.1 L1055.0 1160.8 L1058.0 1162.5 L1061.0 1164.2 L1064.0 1165.8 L1067.0 1167.4 L1070.0 1169.0 L1073.0 1170.6 L1076.0 1172.2 L1079.0 1173.7 L1082.0 1175.3 L1085.0 1176.9 L1088.0 1178.4 L1091.0 1180.0 L1094.0 1181.5 L1097.0 1183.1 L1100.0 1184.7 L1103.0 1186.2 L1106.0 1187.8 L1109.0 1189.4 L1112.0 1191.0 L1115.0 1192.5 L1118.0 1194.1 L1121.0 1195.7 L1124.0 1197.3 L1127.0 1199.0 L1130.0 1200.6 L1133.0 1202.2 L1136.0 1203.9 L1139.0 1205.5 L1142.0 1207.2 L1145.0 1208.8 L1148.0 1210.5 L1151.0 1212.2 L1154.0 1213.9 L1157.0 1215.6 L1160.0 1217.3 L1163.0 1219.0 L1166.0 1220.8 L1169.0 1222.5 L1172.0 1224.3 L1175.0 1226.1 L1178.0 1227.9 L1181.0 1229.7 L1184.0 1231.5 L1187.0 1233.3 L1190.0 1235.1 L1193.0 1236.9 L1196.0 1238.7 L1199.0 1240.5 L1202.0 1242.3 L1205.0 1244.0 L1208.0 1245.8 L1211.0 1247.5 L1214.0 1249.2 L1217.0 1251.0 L1220.0 1252.7 L1223.0 1254.4 L1226.0 1256.1 L1229.0 1257.8 L1232.0 1259.5 L1235.0 1261.2 L1238.0 1262.8 L1241.0 1264.5 L1244.0 1266.1 L1247.0 1267.7 L1250.0 1269.3 L1253.0 1270.9 L1256.0 1272.5 L1259.0 1274.1 L1262.0 1275.7 L1265.0 1277.2 L1268.0 1278.8 L1271.0 1280.3 L1274.0 1281.9 L1277.0 1283.4 L1280.0 1284.9 L1283.0 1286.4 L1286.0 1287.9 L1289.0 1289.4 L1292.0 1290.9 L1295.0 1292.4 L1298.0 1293.8 L1301.0 1295.3 L1304.0 1296.7 L1307.0 1298.2 L1310.0 1299.6 L1313.0 1301.0 L1316.0 1302.4 L1319.0 1303.8 L1322.0 1305.2 L1325.0 1306.6 L1328.0 1307.9 L1331.0 1309.3 L1334.0 1310.7 L1337.0 1312.0 L1340.0 1313.3 L1343.0 1314.7 L1346.0 1316.0 L1349.0 1317.3 L1352.0 1318.7 L1355.0 1320.0 L1358.0 1321.3 L1361.0 1322.7 L1364.0 1324.0 L1367.0 1325.3 L1370.0 1326.7 L1373.0 1328.0 L1376.0 1329.3 L1379.0 1330.6 L1382.0 1332.0 L1385.0 1333.3 L1388.0 1334.6 L1391.0 1335.9 L1394.0 1337.2 L1397.0 1338.5 L1400.0 1339.9 L1403.0 1341.2 L1406.0 1342.5 L1409.0 1343.8 L1412.0 1345.1 L1415.0 1346.4 L1418.0 1347.7 L1421.0 1349.1 L1424.0 1350.4 L1427.0 1351.7 L1430.0 1353.0 L1433.0 1354.3 L1436.0 1355.6 L1439.0 1356.9 L1442.0 1358.2 L1445.0 1359.5 L1448.0 1360.8 L1451.0 1362.1 L1454.0 1363.4 L1457.0 1364.7 L1460.0 1366.0 L1463.0 1367.2 L1466.0 1368.5 L1469.0 1369.8 L1472.0 1371.0 L1475.0 1372.2 L1478.0 1373.4 L1481.0 1374.6 L1484.0 1375.8 L1487.0 1377.0 L1490.0 1378.1 L1493.0 1379.3 L1496.0 1380.4 L1499.0 1381.5 L1502.0 1382.6 L1505.0 1383.8 L1508.0 1384.9 L1511.0 1386.0 L1514.0 1387.1 L1517.0 1388.3 L1520.0 1389.4 L1523.0 1390.5 L1526.0 1391.7 L1529.0 1392.8 L1532.0 1393.9 L1535.0 1395.1 L1538.0 1396.2 L1541.0 1397.3 L1544.0 1398.4 L1547.0 1399.5 L1550.0 1400.6 L1553.0 1401.7 L1556.0 1402.8 L1559.0 1403.8 L1562.0 1404.8 L1565.0 1405.8 L1568.0 1406.8 L1571.0 1407.7 L1574.0 1408.6 L1577.0 1409.6 L1580.0 1410.5 L1583.0 1411.4 L1586.0 1412.2 L1589.0 1413.1 L1592.0 1414.0 L1595.0 1414.8 L1598.0 1415.7 L1601.0 1416.5 L1604.0 1417.3 L1607.0 1418.2 L1610.0 1419.0 L1613.0 1419.8 L1616.0 1420.7 L1619.0 1421.5 L1622.0 1422.3 L1625.0 1423.2 L1628.0 1424.0 L1631.0 1424.8 L1634.0 1425.6 L1637.0 1426.5 L1640.0 1427.3 L1643.0 1428.1 L1646.0 1429.0 L1649.0 1429.8 L1652.0 1430.6 L1655.0 1431.5 L1658.0 1432.4 L1661.0 1433.2 L1664.0 1434.1 L1667.0 1434.9 L1670.0 1435.8 L1673.0 1436.7 L1676.0 1437.5 L1679.0 1438.4 L1682.0 1439.2 L1685.0 1440.1 L1688.0 1440.9 L1691.0 1441.8 L1694.0 1442.6 L1697.0 1443.4 L1700.0 1444.2 L1703.0 1445.0 L1706.0 1445.8 L1709.0 1446.5 L1712.0 1447.2 L1715.0 1447.9 L1718.0 1448.7 L1721.0 1449.4 L1724.0 1450.0 L1727.0 1450.7 L1730.0 1451.4 L1733.0 1452.1 L1736.0 1452.8 L1739.0 1453.5 L1742.0 1454.3 L1745.0 1455.0 L1748.0 1455.7 L1751.0 1456.5 L1754.0 1457.3 L1757.0 1458.0 L1760.0 1458.8 L1763.0 1459.5 L1766.0 1460.3 L1769.0 1461.1 L1772.0 1461.8 L1775.0 1462.6 L1778.0 1463.3 L1781.0 1464.0 L1784.0 1464.7 L1787.0 1465.4 L1790.0 1466.0 L1793.0 1466.7 L1796.0 1467.3 L1799.0 1467.9 L1802.0 1468.6 L1805.0 1469.2 L1808.0 1469.8 L1811.0 1470.3 L1814.0 1470.9 L1817.0 1471.5 L1820.0 1472.1 L1823.0 1472.7 L1826.0 1473.2 L1829.0 1473.8 L1832.0 1474.4 L1835.0 1475.0 L1838.0 1475.6 L1841.0 1476.1 L1844.0 1476.7 L1847.0 1477.3 L1850.0 1477.9 L1853.0 1478.5 L1856.0 1479.0 L1859.0 1479.6 L1862.0 1480.2 L1865.0 1480.8 L1868.0 1481.3 L1871.0 1481.9 L1874.0 1482.5 L1877.0 1483.0 L1880.0 1483.6 L1883.0 1484.2 L1886.0 1484.7 L1889.0 1485.3 L1892.0 1485.8 L1895.0 1486.4 L1898.0 1486.9 L1901.0 1487.5 L1904.0 1488.0 L1907.0 1488.6 L1910.0 1489.1 L1913.0 1489.7 L1916.0 1490.2 L1919.0 1490.7 L1922.0 1491.3 L1925.0 1491.8 L1928.0 1492.4 L1931.0 1492.9 L1934.0 1493.5 L1937.0 1494.0 L1940.0 1494.5 L1943.0 1495.1 L1946.0 1495.6 L1949.0 1496.1 L1952.0 1496.7 L1955.0 1497.2 L1958.0 1497.7 L1961.0 1498.2 L1964.0 1498.7 L1967.0 1499.2 L1970.0 1499.7 L1973.0 1500.1 L1976.0 1500.6 L1979.0 1501.1 L1982.0 1501.5 L1985.0 1502.0 L1988.0 1502.5 L1991.0 1502.9 L1994.0 1503.4 L1997.0 1503.8 L2000.0 1504.3 L2003.0 1504.7 L2006.0 1505.2 L2009.0 1505.7 L2012.0 1506.1 L2015.0 1506.6 L2018.0 1507.0 L2021.0 1507.5 L2024.0 1507.9 L2027.0 1508.4 L2030.0 1508.9 L2033.0 1509.3 L2036.0 1509.8 L2039.0 1510.2 L2042.0 1510.7 L2045.0 1511.1 L2048.0 1511.6 L2051.0 1512.0 L2054.0 1512.5 L2057.0 1512.9 L2060.0 1513.4 L2063.0 1513.9 L2066.0 1514.4 L2069.0 1515.0 L2072.0 1515.6 L2075.0 1516.2 L2078.0 1516.8 L2081.0 1517.3 L2084.0 1517.8 L2087.0 1518.3 L2090.0 1518.8 L2093.0 1519.3 L2096.0 1519.7 L2099.0 1520.2 L2102.0 1520.6 L2105.0 1521.0 L2108.0 1521.4 L2111.0 1521.8 L2114.0 1522.2 L2117.0 1522.6 L2120.0 1522.9 L2123.0 1523.2 L2126.0 1523.4 L2129.0 1523.5 L2132.0 1523.5 L2135.0 1523.5 L2138.0 1523.6 L2141.0 1523.7 L2144.0 1523.9 L2147.0 1524.3 L2150.0 1524.9 L2153.0 1525.6 L2156.0 1526.4 L2159.0 1527.1 L2162.0 1527.9 L2165.0 1528.5 L2168.0 1528.9 L2171.0 1529.2 L2174.0 1529.5 L2177.0 1529.8 L2180.0 1530.1 L2183.0 1530.4 L2186.0 1530.7 L2189.0 1530.9 L2192.0 1531.2 L2195.0 1531.5 L2198.0 1531.8 L2201.0 1532.1 L2204.0 1532.4 L2207.0 1532.7 L2210.0 1533.0 L2213.0 1533.3 L2215.0 1533.5" stroke="#ff0000"/>
</g>
<text x="2095.3" y="506.0" class="cl">(a)</text>
<text x="2095.0" y="685.4" class="cl">(b)</text>
<text x="2101.2" y="864.2" class="cl">(c)</text>
<text x="2095.4" y="1031.7" class="cl">(d)</text>
<text x="2094.3" y="1172.5" class="cl">(e)</text>
<text x="2107.1" y="1475.3" class="cl">(f)</text>
<text transform="translate(819,1822) scale(1,1.043)" style="font-size:100.5px" class="ax">Wavelength (nm)</text>
<text transform="translate(103,1202.6) rotate(-90) scale(1,1.043)" class="ax">Absorbance (a.u.)</text>
</svg>
</body></html>
